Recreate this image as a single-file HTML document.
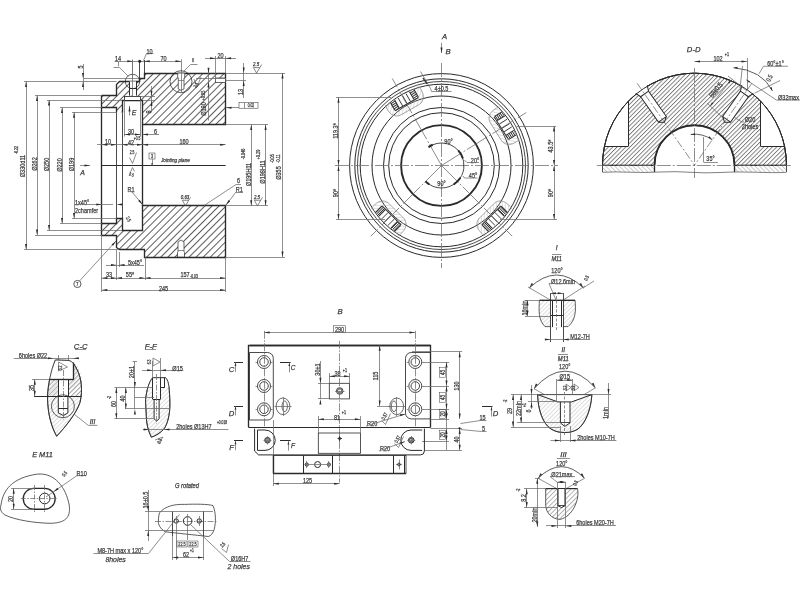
<!DOCTYPE html>
<html><head><meta charset="utf-8"><style>
html,body{margin:0;padding:0;background:#fff;width:800px;height:600px;overflow:hidden}
svg{display:block;will-change:transform}
text{font-family:"Liberation Sans",sans-serif}
</style></head><body>
<svg width="800" height="600" viewBox="0 0 800 600">
<defs>
<pattern id="hA" patternUnits="userSpaceOnUse" width="5" height="5" patternTransform="rotate(45)"><line x1="0.5" y1="0" x2="0.5" y2="5" stroke="#333" stroke-width="0.8"/></pattern>
<pattern id="hD" patternUnits="userSpaceOnUse" width="3.05" height="3.05" patternTransform="rotate(45)"><line x1="0.5" y1="0" x2="0.5" y2="3.05" stroke="#333" stroke-width="0.6"/></pattern>
<pattern id="hL" patternUnits="userSpaceOnUse" width="3" height="3" patternTransform="rotate(45)"><line x1="0.5" y1="0" x2="0.5" y2="3" stroke="#bbb" stroke-width="0.5"/></pattern>
<pattern id="thr" patternUnits="userSpaceOnUse" width="1.2" height="1.2"><line x1="0.3" y1="0" x2="0.3" y2="1.2" stroke="#333" stroke-width="0.6"/></pattern>
<pattern id="hL2" patternUnits="userSpaceOnUse" width="3.2" height="3.2" patternTransform="rotate(-45)"><line x1="0.5" y1="0" x2="0.5" y2="3.2" stroke="#aaa" stroke-width="0.6"/></pattern>
<pattern id="hS" patternUnits="userSpaceOnUse" width="3.3" height="3.3" patternTransform="rotate(45)"><line x1="0.5" y1="0" x2="0.5" y2="3.3" stroke="#666" stroke-width="0.5"/></pattern>
</defs>
<rect width="800" height="600" fill="#fff"/>
<g stroke="#2a2a2a" fill="none" stroke-linecap="butt">
<polygon points="101.8,95.6 116.6,95.6 116.6,84 119,81.4 139.4,81.4 139.4,78.4 144.7,78.4 144.7,73.1 225.6,73.1 225.6,124.5 142.5,124.5 142.5,100 122,100 122,112.3 116.5,112.3 116.5,107.5 101.8,107.5" stroke-width="0" fill="url(#hA)" stroke="#6a6a6a"/>
<polyline points="101.5,95.5 116.5,95.5 116.5,84.5 119.5,81.5 139.5,81.5 139.5,78.5 144.5,78.5 144.5,73.5 225.5,73.5 225.5,124.5 142.5,124.5 142.5,100.5 122.5,100.5 122.5,112.5" stroke-width="1.35" fill="none"/>
<polyline points="116.5,112.5 116.5,107.5 101.5,107.5 101.5,95.5" stroke-width="1.35" fill="none"/>
<polygon points="101.5,223.5 116.5,223.5 116.5,218.5 122.5,218.5 122.5,230.5 142.5,230.5 142.5,205.5 225.5,205.5 225.5,257.5 144.5,257.5 144.5,249.5 119.5,249.5 116.5,247.5 116.5,235.5 101.5,235.5" stroke-width="1.35" fill="url(#hA)"/>
<rect x="129" y="81.4" width="7" height="14.2" fill="#fff" stroke="none"/>
<line x1="129.5" y1="81.4" x2="129.5" y2="95.6" stroke-width="1.0"/>
<line x1="136.5" y1="81.4" x2="136.5" y2="95.6" stroke-width="1.0"/>
<line x1="129" y1="88.5" x2="136" y2="88.5" stroke-width="1.0"/>
<line x1="132.5" y1="60" x2="132.5" y2="97" stroke-width="0.75" stroke="#6a6a6a"/>
<circle cx="132.5" cy="81.5" r="7.2" stroke-width="0.75" fill="none"/>
<rect x="124" y="96.2" width="16.5" height="3.8" fill="#fff" stroke="none"/>
<line x1="124" y1="96.5" x2="140.5" y2="96.5" stroke-width="0.85"/>
<line x1="124.5" y1="96.2" x2="124.5" y2="100" stroke-width="0.85"/>
<line x1="140.5" y1="96.2" x2="140.5" y2="100" stroke-width="0.85"/>
<path d="M177.7 73.1 L184.7 73.1 L184.7 77.3 L184 78 L184 89 L181 90.3 L178.3 89 L178.3 78 L177.7 77.3 Z" fill="#fff" stroke-width="0.7"/>
<line x1="178.3" y1="80.5" x2="184" y2="80.5" stroke-width="0.75" stroke="#6a6a6a"/>
<line x1="181.5" y1="59.3" x2="181.5" y2="92" stroke-width="0.75" stroke="#6a6a6a"/>
<circle cx="181" cy="81.7" r="11" stroke-width="0.75" fill="none"/>
<path d="M177.5 257 L184.5 257 L184.5 252.5 L184 252 L184 242 L181 240 L178 242 L178 252 L177.5 252.5 Z" fill="#fff" stroke-width="0.7"/>
<line x1="178" y1="250.5" x2="184" y2="250.5" stroke-width="0.75" stroke="#6a6a6a"/>
<rect x="215.5" y="78" width="10.1" height="4.5" fill="#fff" stroke-width="0.7"/>
<line x1="101.5" y1="107.5" x2="101.5" y2="223.5" stroke-width="1.35"/>
<line x1="116.5" y1="112.3" x2="116.5" y2="218.5" stroke-width="0.85"/>
<line x1="122.5" y1="112.3" x2="122.5" y2="218.5" stroke-width="0.85"/>
<line x1="142.5" y1="124.5" x2="142.5" y2="205.8" stroke-width="1.35"/>
<line x1="101.8" y1="165.5" x2="225.6" y2="165.5" stroke-width="1.0"/>
<line x1="24" y1="81.5" x2="116.6" y2="81.5" stroke-width="0.75" stroke="#6a6a6a"/>
<line x1="24" y1="249.5" x2="119" y2="249.5" stroke-width="0.75" stroke="#6a6a6a"/>
<line x1="35" y1="95.5" x2="101.8" y2="95.5" stroke-width="0.75" stroke="#6a6a6a"/>
<line x1="35" y1="235.5" x2="101.8" y2="235.5" stroke-width="0.75" stroke="#6a6a6a"/>
<line x1="47" y1="100.5" x2="122" y2="100.5" stroke-width="0.75" stroke="#6a6a6a"/>
<line x1="47" y1="230.5" x2="122" y2="230.5" stroke-width="0.75" stroke="#6a6a6a"/>
<line x1="60" y1="107.5" x2="101.8" y2="107.5" stroke-width="0.75" stroke="#6a6a6a"/>
<line x1="60" y1="223.5" x2="101.8" y2="223.5" stroke-width="0.75" stroke="#6a6a6a"/>
<line x1="72" y1="112.5" x2="116.5" y2="112.5" stroke-width="0.75" stroke="#6a6a6a"/>
<line x1="72" y1="218.5" x2="116.5" y2="218.5" stroke-width="0.75" stroke="#6a6a6a"/>
<line x1="84" y1="78.5" x2="139.4" y2="78.5" stroke-width="0.75" stroke="#6a6a6a"/>
<line x1="26.5" y1="81.6" x2="26.5" y2="249.5" stroke-width="0.75" stroke="#6a6a6a"/>
<polygon points="26,249.5 25,244 27,244" fill="#2a2a2a" stroke="none"/>
<polygon points="26,81.6 27,87.1 25,87.1" fill="#2a2a2a" stroke="none"/>
<line x1="37.5" y1="95.6" x2="37.5" y2="235" stroke-width="0.75" stroke="#6a6a6a"/>
<polygon points="37,235 36,229.5 38,229.5" fill="#2a2a2a" stroke="none"/>
<polygon points="37,95.6 38,101.1 36,101.1" fill="#2a2a2a" stroke="none"/>
<line x1="49.5" y1="100" x2="49.5" y2="230.5" stroke-width="0.75" stroke="#6a6a6a"/>
<polygon points="49,230.5 48,225 50,225" fill="#2a2a2a" stroke="none"/>
<polygon points="49,100 50,105.5 48,105.5" fill="#2a2a2a" stroke="none"/>
<line x1="62.5" y1="107.5" x2="62.5" y2="223.5" stroke-width="0.75" stroke="#6a6a6a"/>
<polygon points="62,223.5 61,218 63,218" fill="#2a2a2a" stroke="none"/>
<polygon points="62,107.5 63,113 61,113" fill="#2a2a2a" stroke="none"/>
<line x1="74.5" y1="112.3" x2="74.5" y2="218.5" stroke-width="0.75" stroke="#6a6a6a"/>
<polygon points="74,218.5 73,213 75,213" fill="#2a2a2a" stroke="none"/>
<polygon points="74,112.3 75,117.8 73,117.8" fill="#2a2a2a" stroke="none"/>
<text x="23" y="166" dy="1.8" font-size="7.7" text-anchor="middle" transform="rotate(-90 23 166)" textLength="22.4" lengthAdjust="spacingAndGlyphs" fill="#3a3a3a" stroke="#3a3a3a" stroke-width="0.25">Ø330d11</text>
<text x="17.5" y="150" font-size="4.6" text-anchor="middle" transform="rotate(-90 17.5 150)" textLength="7.55" lengthAdjust="spacingAndGlyphs" fill="#3a3a3a" stroke="#3a3a3a" stroke-width="0.25">-0.22</text>
<text x="35" y="164" dy="1.8" font-size="7.7" text-anchor="middle" transform="rotate(-90 35 164)" textLength="13.56" lengthAdjust="spacingAndGlyphs" fill="#3a3a3a" stroke="#3a3a3a" stroke-width="0.25">Ø262</text>
<text x="47" y="164.5" dy="1.8" font-size="7.7" text-anchor="middle" transform="rotate(-90 47 164.5)" textLength="13.56" lengthAdjust="spacingAndGlyphs" fill="#3a3a3a" stroke="#3a3a3a" stroke-width="0.25">Ø250</text>
<text x="60" y="165" dy="1.8" font-size="7.7" text-anchor="middle" transform="rotate(-90 60 165)" textLength="13.56" lengthAdjust="spacingAndGlyphs" fill="#3a3a3a" stroke="#3a3a3a" stroke-width="0.25">Ø220</text>
<text x="72" y="164.5" dy="1.8" font-size="7.7" text-anchor="middle" transform="rotate(-90 72 164.5)" textLength="13.56" lengthAdjust="spacingAndGlyphs" fill="#3a3a3a" stroke="#3a3a3a" stroke-width="0.25">Ø199</text>
<line x1="80" y1="165.5" x2="90" y2="165.5" stroke-width="0.75" stroke="#6a6a6a"/>
<polygon points="90,165.6 84.5,166.6 84.5,164.6" fill="#2a2a2a" stroke="none"/>
<text x="82.5" y="173" dy="1.8" font-size="7.7" text-anchor="middle" font-style="italic" textLength="4.62" lengthAdjust="spacingAndGlyphs" fill="#3a3a3a" stroke="#3a3a3a" stroke-width="0.25">A</text>
<text x="75" y="203" dy="1.8" font-size="7.7" text-anchor="start" textLength="14.24" lengthAdjust="spacingAndGlyphs" fill="#3a3a3a" stroke="#3a3a3a" stroke-width="0.25">1x45°</text>
<text x="75" y="211" dy="1.8" font-size="7.7" text-anchor="start" textLength="23.11" lengthAdjust="spacingAndGlyphs" fill="#3a3a3a" stroke="#3a3a3a" stroke-width="0.25">2chamfer</text>
<line x1="74" y1="204.5" x2="113" y2="204.5" stroke-width="0.75" stroke="#6a6a6a"/>
<polygon points="101.8,204.4 96.3,205.4 96.3,203.4" fill="#2a2a2a" stroke="none"/>
<polygon points="116.5,204.4 122,203.4 122,205.4" fill="#2a2a2a" stroke="none"/>
<line x1="114.5" y1="61.5" x2="181" y2="61.5" stroke-width="0.75" stroke="#6a6a6a"/>
<polygon points="132.8,61.3 127.3,62.3 127.3,60.3" fill="#2a2a2a" stroke="none"/>
<polygon points="144.2,61.3 149.7,60.3 149.7,62.3" fill="#2a2a2a" stroke="none"/>
<polygon points="181,61.3 175.5,62.3 175.5,60.3" fill="#2a2a2a" stroke="none"/>
<circle cx="139.7" cy="61.3" r="1.5" fill="#222" stroke="none"/>
<line x1="132.5" y1="59.5" x2="132.5" y2="78" stroke-width="0.75" stroke="#6a6a6a"/>
<line x1="139.5" y1="61.3" x2="139.5" y2="78.4" stroke-width="0.85"/>
<line x1="144.5" y1="60" x2="144.5" y2="73.1" stroke-width="0.85"/>
<text x="118" y="58.8" dy="1.8" font-size="7.7" text-anchor="middle" textLength="6.17" lengthAdjust="spacingAndGlyphs" fill="#3a3a3a" stroke="#3a3a3a" stroke-width="0.25">14</text>
<text x="163.5" y="59" dy="1.8" font-size="7.7" text-anchor="middle" textLength="6.17" lengthAdjust="spacingAndGlyphs" fill="#3a3a3a" stroke="#3a3a3a" stroke-width="0.25">70</text>
<polyline points="143.5,60.5 146.5,53.5 153.5,53.5" stroke-width="0.75" fill="none" stroke="#6a6a6a"/>
<text x="149.5" y="52" dy="1.8" font-size="7.7" text-anchor="middle" textLength="6.17" lengthAdjust="spacingAndGlyphs" fill="#3a3a3a" stroke="#3a3a3a" stroke-width="0.25">10</text>
<line x1="205" y1="58.5" x2="236" y2="58.5" stroke-width="0.75" stroke="#6a6a6a"/>
<polygon points="215.5,58.3 210,59.3 210,57.3" fill="#2a2a2a" stroke="none"/>
<polygon points="225.6,58.3 231.1,57.3 231.1,59.3" fill="#2a2a2a" stroke="none"/>
<line x1="215.5" y1="56" x2="215.5" y2="78" stroke-width="0.75" stroke="#6a6a6a"/>
<line x1="225.5" y1="56" x2="225.5" y2="73.1" stroke-width="0.75" stroke="#6a6a6a"/>
<text x="220.5" y="56" dy="1.8" font-size="7.7" text-anchor="middle" textLength="6.17" lengthAdjust="spacingAndGlyphs" fill="#3a3a3a" stroke="#3a3a3a" stroke-width="0.25">20</text>
<line x1="83.5" y1="64" x2="83.5" y2="90" stroke-width="0.75" stroke="#6a6a6a"/>
<polygon points="83,78.4 82,72.9 84,72.9" fill="#2a2a2a" stroke="none"/>
<polygon points="83,81.4 84,86.9 82,86.9" fill="#2a2a2a" stroke="none"/>
<text x="81" y="67" dy="1.8" font-size="7.7" text-anchor="middle" transform="rotate(-90 81 67)" textLength="3.08" lengthAdjust="spacingAndGlyphs" fill="#3a3a3a" stroke="#3a3a3a" stroke-width="0.25">5</text>
<polyline points="113.5,67.5 119.5,67.5 128.5,76.5" stroke-width="0.75" fill="none" stroke="#6a6a6a"/>
<text x="118.5" y="65.5" font-size="5.2" text-anchor="middle" textLength="1.04" lengthAdjust="spacingAndGlyphs" fill="#3a3a3a" stroke="#3a3a3a" stroke-width="0.25">I</text>
<polyline points="183.5,71.5 190.5,64.5 197.5,64.5" stroke-width="0.75" fill="none" stroke="#6a6a6a"/>
<text x="192.7" y="62" font-size="5.2" text-anchor="middle" textLength="2.08" lengthAdjust="spacingAndGlyphs" fill="#3a3a3a" stroke="#3a3a3a" stroke-width="0.25">II</text>
<line x1="151.5" y1="86" x2="151.5" y2="112.5" stroke-width="0.75" stroke="#6a6a6a"/>
<polygon points="151.5,96.2 150.5,90.7 152.5,90.7" fill="#2a2a2a" stroke="none"/>
<polygon points="151.5,100.4 152.5,105.9 150.5,105.9" fill="#2a2a2a" stroke="none"/>
<text x="149" y="112" dy="1.8" font-size="7.7" text-anchor="middle" transform="rotate(-90 149 112)" textLength="3.08" lengthAdjust="spacingAndGlyphs" fill="#3a3a3a" stroke="#3a3a3a" stroke-width="0.25">8</text>
<line x1="140.5" y1="96.5" x2="155" y2="96.5" stroke-width="0.75" stroke="#6a6a6a"/>
<line x1="142.5" y1="100.5" x2="155" y2="100.5" stroke-width="0.75" stroke="#6a6a6a"/>
<line x1="129.5" y1="106" x2="129.5" y2="115.5" stroke-width="0.75" stroke="#6a6a6a"/>
<polygon points="129.5,106 130.5,111.5 128.5,111.5" fill="#2a2a2a" stroke="none"/>
<text x="134" y="113" dy="1.8" font-size="7.7" text-anchor="middle" font-style="italic" textLength="4.62" lengthAdjust="spacingAndGlyphs" fill="#3a3a3a" stroke="#3a3a3a" stroke-width="0.25">E</text>
<line x1="124.5" y1="136.5" x2="124.5" y2="100" stroke-width="0.75" stroke="#6a6a6a"/>
<line x1="140.5" y1="136.5" x2="140.5" y2="100" stroke-width="0.75" stroke="#6a6a6a"/>
<line x1="124.5" y1="134.5" x2="140.5" y2="134.5" stroke-width="0.75" stroke="#6a6a6a"/>
<polygon points="140.5,134.5 135,135.5 135,133.5" fill="#2a2a2a" stroke="none"/>
<polygon points="124.5,134.5 130,133.5 130,135.5" fill="#2a2a2a" stroke="none"/>
<line x1="142.5" y1="134.5" x2="159" y2="134.5" stroke-width="0.75" stroke="#6a6a6a"/>
<polygon points="142.5,134.5 148,133.5 148,135.5" fill="#2a2a2a" stroke="none"/>
<text x="131" y="131.8" dy="1.8" font-size="7.7" text-anchor="middle" textLength="6.17" lengthAdjust="spacingAndGlyphs" fill="#3a3a3a" stroke="#3a3a3a" stroke-width="0.25">30</text>
<text x="155.5" y="131.8" dy="1.8" font-size="7.7" text-anchor="middle" textLength="3.08" lengthAdjust="spacingAndGlyphs" fill="#3a3a3a" stroke="#3a3a3a" stroke-width="0.25">6</text>
<line x1="97" y1="144.5" x2="225.6" y2="144.5" stroke-width="0.75" stroke="#6a6a6a"/>
<polygon points="101.8,144.8 107.3,143.8 107.3,145.8" fill="#2a2a2a" stroke="none"/>
<polygon points="116.5,144.8 111,145.8 111,143.8" fill="#2a2a2a" stroke="none"/>
<polygon points="122,144.8 127.5,143.8 127.5,145.8" fill="#2a2a2a" stroke="none"/>
<polygon points="142.5,144.8 137,145.8 137,143.8" fill="#2a2a2a" stroke="none"/>
<polygon points="142.5,144.8 148,143.8 148,145.8" fill="#2a2a2a" stroke="none"/>
<polygon points="225.6,144.8 220.1,145.8 220.1,143.8" fill="#2a2a2a" stroke="none"/>
<text x="108" y="142.2" dy="1.8" font-size="7.7" text-anchor="middle" textLength="6.17" lengthAdjust="spacingAndGlyphs" fill="#3a3a3a" stroke="#3a3a3a" stroke-width="0.25">10</text>
<text x="131" y="143" dy="1.8" font-size="7.7" text-anchor="middle" textLength="6.17" lengthAdjust="spacingAndGlyphs" fill="#3a3a3a" stroke="#3a3a3a" stroke-width="0.25">42</text>
<text x="137" y="139.5" font-size="4.6" text-anchor="middle" textLength="6.54" lengthAdjust="spacingAndGlyphs" fill="#3a3a3a" stroke="#3a3a3a" stroke-width="0.25">+0.5</text>
<text x="184" y="142.2" dy="1.8" font-size="7.7" text-anchor="middle" textLength="9.25" lengthAdjust="spacingAndGlyphs" fill="#3a3a3a" stroke="#3a3a3a" stroke-width="0.25">160</text>
<text x="148" y="172" font-size="5.2" text-anchor="middle" fill="#3a3a3a" stroke="#3a3a3a" stroke-width="0.25"></text>
<rect x="149" y="153" width="6" height="6" fill="none" stroke-width="0.5"/>
<text x="152" y="158" font-size="5.2" text-anchor="middle" textLength="2.08" lengthAdjust="spacingAndGlyphs" fill="#3a3a3a" stroke="#3a3a3a" stroke-width="0.25">3</text>
<line x1="152.5" y1="159" x2="152.5" y2="165.5" stroke-width="0.75" stroke="#6a6a6a"/>
<polygon points="152,165.5 151.2,163.3 152.8,163.3" fill="#2a2a2a" stroke="none"/>
<text x="161" y="162" font-size="5.5" text-anchor="start" font-style="italic" textLength="28.85" lengthAdjust="spacingAndGlyphs" fill="#3a3a3a" stroke="#3a3a3a" stroke-width="0.25">Jointing plane</text>
<polyline points="129.5,157.5 132.5,163.5 136.5,152.5" stroke-width="0.75" fill="none" stroke="#6a6a6a"/>
<text x="132" y="154" font-size="4.6" text-anchor="middle" textLength="4.6" lengthAdjust="spacingAndGlyphs" fill="#3a3a3a" stroke="#3a3a3a" stroke-width="0.25">2.5</text>
<polyline points="129.5,174.5 132.5,167.5 134.5,171.5" stroke-width="0.75" fill="none" stroke="#6a6a6a"/>
<text x="131" y="176" font-size="4.6" text-anchor="middle" transform="rotate(20 131 176)" textLength="4.6" lengthAdjust="spacingAndGlyphs" fill="#3a3a3a" stroke="#3a3a3a" stroke-width="0.25">2.5</text>
<text x="131" y="190" dy="1.8" font-size="7.7" text-anchor="middle" textLength="7.09" lengthAdjust="spacingAndGlyphs" fill="#3a3a3a" stroke="#3a3a3a" stroke-width="0.25">R1</text>
<line x1="128.5" y1="191.5" x2="132.5" y2="191.5" stroke-width="0.75" stroke="#6a6a6a"/>
<line x1="132" y1="192" x2="142.5" y2="204.5" stroke-width="0.75" stroke="#6a6a6a"/>
<polygon points="142.5,204.5 138.2,200.93 139.73,199.64" fill="#2a2a2a" stroke="none"/>
<text x="239.4" y="190.5" dy="1.8" font-size="7.7" text-anchor="middle" textLength="7.09" lengthAdjust="spacingAndGlyphs" fill="#3a3a3a" stroke="#3a3a3a" stroke-width="0.25">R1</text>
<line x1="236" y1="192.5" x2="243" y2="192.5" stroke-width="0.75" stroke="#6a6a6a"/>
<line x1="236" y1="192" x2="226" y2="205" stroke-width="0.75" stroke="#6a6a6a"/>
<polygon points="226,205 228.6,200.05 230.17,201.28" fill="#2a2a2a" stroke="none"/>
<line x1="236" y1="184.5" x2="204" y2="205.6" stroke-width="0.75" stroke="#6a6a6a"/>
<line x1="236" y1="184.5" x2="241" y2="184.5" stroke-width="0.75" stroke="#6a6a6a"/>
<text x="238.5" y="181" dy="1.8" font-size="7.7" text-anchor="middle" textLength="3.08" lengthAdjust="spacingAndGlyphs" fill="#3a3a3a" stroke="#3a3a3a" stroke-width="0.25">6</text>
<path d="M182.3 200.3 L185.5 205.8 L188.7 200.3 Z M188.7 200.3 L190.5 197.3" stroke="#555" stroke-width="0.7" fill="none"/>
<text x="185" y="198.8" font-size="5.5" text-anchor="middle" font-style="italic" textLength="8.56" lengthAdjust="spacingAndGlyphs" fill="#3a3a3a" stroke="#3a3a3a" stroke-width="0.25">0.63</text>
<line x1="208.5" y1="68" x2="208.5" y2="120.5" stroke-width="0.75" stroke="#6a6a6a"/>
<polygon points="208.5,73.3 207.5,67.8 209.5,67.8" fill="#2a2a2a" stroke="none"/>
<polygon points="208.5,82 209.5,87.5 207.5,87.5" fill="#2a2a2a" stroke="none"/>
<line x1="196" y1="78.5" x2="225.6" y2="78.5" stroke-width="0.75" stroke="#6a6a6a"/>
<text x="204.5" y="109" dy="1.8" font-size="7.7" text-anchor="middle" transform="rotate(-90 204.5 109)" textLength="13.56" lengthAdjust="spacingAndGlyphs" fill="#3a3a3a" stroke="#3a3a3a" stroke-width="0.25">Ø180</text>
<text x="204.5" y="95.5" font-size="5.2" text-anchor="middle" transform="rotate(-90 204.5 95.5)" textLength="9.47" lengthAdjust="spacingAndGlyphs" fill="#3a3a3a" stroke="#3a3a3a" stroke-width="0.25">+0.05</text>
<polyline points="194,79 197,87 201,77" stroke-width="0.75" fill="none" stroke="#6a6a6a"/>
<text x="197.5" y="86" font-size="5.2" text-anchor="middle" transform="rotate(-60 197.5 86)" textLength="5.2" lengthAdjust="spacingAndGlyphs" fill="#3a3a3a" stroke="#3a3a3a" stroke-width="0.25">2.5</text>
<line x1="225.6" y1="73.5" x2="285" y2="73.5" stroke-width="0.75" stroke="#6a6a6a"/>
<line x1="225.6" y1="257.5" x2="285" y2="257.5" stroke-width="0.75" stroke="#6a6a6a"/>
<line x1="282.5" y1="73.1" x2="282.5" y2="257" stroke-width="0.75" stroke="#6a6a6a"/>
<polygon points="282.5,257 281.5,251.5 283.5,251.5" fill="#2a2a2a" stroke="none"/>
<polygon points="282.5,73.1 283.5,78.6 281.5,78.6" fill="#2a2a2a" stroke="none"/>
<text x="279.5" y="173" dy="1.8" font-size="7.7" text-anchor="middle" transform="rotate(-90 279.5 173)" textLength="13.56" lengthAdjust="spacingAndGlyphs" fill="#3a3a3a" stroke="#3a3a3a" stroke-width="0.25">Ø355</text>
<text x="273.5" y="158.5" font-size="5.2" text-anchor="middle" transform="rotate(-90 273.5 158.5)" textLength="8.53" lengthAdjust="spacingAndGlyphs" fill="#3a3a3a" stroke="#3a3a3a" stroke-width="0.25">-0.05</text>
<text x="279.5" y="158.5" font-size="5.2" text-anchor="middle" transform="rotate(-90 279.5 158.5)" textLength="8.25" lengthAdjust="spacingAndGlyphs" fill="#3a3a3a" stroke="#3a3a3a" stroke-width="0.25">-0.11</text>
<line x1="225.6" y1="124.5" x2="268" y2="124.5" stroke-width="0.75" stroke="#6a6a6a"/>
<line x1="225.6" y1="205.5" x2="268" y2="205.5" stroke-width="0.75" stroke="#6a6a6a"/>
<line x1="251.5" y1="124.5" x2="251.5" y2="205.8" stroke-width="0.75" stroke="#6a6a6a"/>
<polygon points="251.2,205.8 250.2,200.3 252.2,200.3" fill="#2a2a2a" stroke="none"/>
<polygon points="251.2,124.5 252.2,130 250.2,130" fill="#2a2a2a" stroke="none"/>
<line x1="265.5" y1="124.5" x2="265.5" y2="205.8" stroke-width="0.75" stroke="#6a6a6a"/>
<polygon points="265.6,205.8 264.6,200.3 266.6,200.3" fill="#2a2a2a" stroke="none"/>
<polygon points="265.6,124.5 266.6,130 264.6,130" fill="#2a2a2a" stroke="none"/>
<text x="249" y="174.5" dy="1.8" font-size="7.7" text-anchor="middle" transform="rotate(-90 249 174.5)" textLength="23.32" lengthAdjust="spacingAndGlyphs" fill="#3a3a3a" stroke="#3a3a3a" stroke-width="0.25">Ø195H11</text>
<text x="244.5" y="154" font-size="5.2" text-anchor="middle" transform="rotate(-90 244.5 154)" textLength="10.61" lengthAdjust="spacingAndGlyphs" fill="#3a3a3a" stroke="#3a3a3a" stroke-width="0.25">-0.046</text>
<text x="263.5" y="172" dy="1.8" font-size="7.7" text-anchor="middle" transform="rotate(-90 263.5 172)" textLength="23.32" lengthAdjust="spacingAndGlyphs" fill="#3a3a3a" stroke="#3a3a3a" stroke-width="0.25">Ø198H11</text>
<text x="259.5" y="154.5" font-size="5.2" text-anchor="middle" transform="rotate(-90 259.5 154.5)" textLength="9.47" lengthAdjust="spacingAndGlyphs" fill="#3a3a3a" stroke="#3a3a3a" stroke-width="0.25">+0.29</text>
<line x1="225.6" y1="80.5" x2="246" y2="80.5" stroke-width="0.75" stroke="#6a6a6a"/>
<line x1="243.5" y1="63" x2="243.5" y2="98" stroke-width="0.75" stroke="#6a6a6a"/>
<polygon points="243.7,73.1 242.7,67.6 244.7,67.6" fill="#2a2a2a" stroke="none"/>
<polygon points="243.7,80.5 244.7,86 242.7,86" fill="#2a2a2a" stroke="none"/>
<text x="241" y="92" dy="1.8" font-size="7.7" text-anchor="middle" transform="rotate(-90 241 92)" textLength="6.17" lengthAdjust="spacingAndGlyphs" fill="#3a3a3a" stroke="#3a3a3a" stroke-width="0.25">13</text>
<path d="M253.4 67.6 L256.6 73.1 L259.8 67.6 Z M259.8 67.6 L261.6 64.6" stroke="#555" stroke-width="0.7" fill="none"/>
<text x="256.1" y="66.1" font-size="5.5" text-anchor="middle" font-style="italic" textLength="6.12" lengthAdjust="spacingAndGlyphs" fill="#3a3a3a" stroke="#3a3a3a" stroke-width="0.25">2.5</text>
<path d="M254.3 200.3 L257.5 205.8 L260.7 200.3 Z M260.7 200.3 L262.5 197.3" stroke="#555" stroke-width="0.7" fill="none"/>
<text x="257" y="198.8" font-size="5.5" text-anchor="middle" font-style="italic" textLength="6.12" lengthAdjust="spacingAndGlyphs" fill="#3a3a3a" stroke="#3a3a3a" stroke-width="0.25">2.5</text>
<rect x="239" y="102.7" width="19" height="5.5" fill="none" stroke-width="0.5"/>
<line x1="244.5" y1="102.7" x2="244.5" y2="108.2" stroke-width="0.75" stroke="#6a6a6a"/>
<text x="251" y="107" font-size="4.6" text-anchor="middle" textLength="6.45" lengthAdjust="spacingAndGlyphs" fill="#3a3a3a" stroke="#3a3a3a" stroke-width="0.25">0.02</text>
<line x1="226" y1="107.5" x2="239" y2="107.5" stroke-width="0.75" stroke="#6a6a6a"/>
<polygon points="226,107.8 231.5,106.8 231.5,108.8" fill="#2a2a2a" stroke="none"/>
<line x1="101.5" y1="235" x2="101.5" y2="292" stroke-width="0.75" stroke="#6a6a6a"/>
<line x1="116.5" y1="249.5" x2="116.5" y2="280" stroke-width="0.75" stroke="#6a6a6a"/>
<line x1="145.5" y1="257" x2="145.5" y2="280" stroke-width="0.75" stroke="#6a6a6a"/>
<line x1="225.5" y1="257" x2="225.5" y2="292" stroke-width="0.75" stroke="#6a6a6a"/>
<line x1="119.5" y1="252" x2="119.5" y2="267" stroke-width="0.75" stroke="#6a6a6a"/>
<line x1="101.8" y1="278.5" x2="116.5" y2="278.5" stroke-width="0.75" stroke="#6a6a6a"/>
<polygon points="116.5,278 111,279 111,277" fill="#2a2a2a" stroke="none"/>
<polygon points="101.8,278 107.3,277 107.3,279" fill="#2a2a2a" stroke="none"/>
<line x1="116.5" y1="278.5" x2="145" y2="278.5" stroke-width="0.75" stroke="#6a6a6a"/>
<polygon points="145,278 139.5,279 139.5,277" fill="#2a2a2a" stroke="none"/>
<polygon points="116.5,278 122,277 122,279" fill="#2a2a2a" stroke="none"/>
<line x1="145" y1="278.5" x2="225.6" y2="278.5" stroke-width="0.75" stroke="#6a6a6a"/>
<polygon points="225.6,278 220.1,279 220.1,277" fill="#2a2a2a" stroke="none"/>
<polygon points="145,278 150.5,277 150.5,279" fill="#2a2a2a" stroke="none"/>
<line x1="101.8" y1="290.5" x2="225.6" y2="290.5" stroke-width="0.75" stroke="#6a6a6a"/>
<polygon points="225.6,290 220.1,291 220.1,289" fill="#2a2a2a" stroke="none"/>
<polygon points="101.8,290 107.3,289 107.3,291" fill="#2a2a2a" stroke="none"/>
<text x="109" y="275.5" dy="1.8" font-size="7.7" text-anchor="middle" textLength="6.17" lengthAdjust="spacingAndGlyphs" fill="#3a3a3a" stroke="#3a3a3a" stroke-width="0.25">33</text>
<text x="130" y="275.5" dy="1.8" font-size="7.7" text-anchor="middle" textLength="8.32" lengthAdjust="spacingAndGlyphs" fill="#3a3a3a" stroke="#3a3a3a" stroke-width="0.25">55*</text>
<text x="185" y="275.5" dy="1.8" font-size="7.7" text-anchor="middle" textLength="9.25" lengthAdjust="spacingAndGlyphs" fill="#3a3a3a" stroke="#3a3a3a" stroke-width="0.25">157</text>
<text x="194" y="277.5" font-size="4.6" text-anchor="middle" textLength="7.55" lengthAdjust="spacingAndGlyphs" fill="#3a3a3a" stroke="#3a3a3a" stroke-width="0.25">-0.03</text>
<text x="163.5" y="289.5" dy="1.8" font-size="7.7" text-anchor="middle" textLength="9.25" lengthAdjust="spacingAndGlyphs" fill="#3a3a3a" stroke="#3a3a3a" stroke-width="0.25">245</text>
<line x1="106" y1="265.5" x2="144" y2="265.5" stroke-width="0.75" stroke="#6a6a6a"/>
<polygon points="116.5,265 111,266 111,264" fill="#2a2a2a" stroke="none"/>
<polygon points="119,265 124.5,264 124.5,266" fill="#2a2a2a" stroke="none"/>
<text x="135" y="263" dy="1.8" font-size="7.7" text-anchor="middle" textLength="14.24" lengthAdjust="spacingAndGlyphs" fill="#3a3a3a" stroke="#3a3a3a" stroke-width="0.25">5x45°</text>
<line x1="116" y1="241" x2="79.5" y2="281" stroke-width="0.75" stroke="#6a6a6a"/>
<polygon points="116,241 113.06,245.76 111.58,244.42" fill="#2a2a2a" stroke="none"/>
<circle cx="77.4" cy="284" r="3.6" stroke-width="0.75" fill="none"/>
<text x="77.4" y="285.8" font-size="5.2" text-anchor="middle" textLength="2.08" lengthAdjust="spacingAndGlyphs" fill="#3a3a3a" stroke="#3a3a3a" stroke-width="0.25">7</text>
<text x="127" y="220" font-size="5.2" text-anchor="middle" transform="rotate(60 127 220)" textLength="5.2" lengthAdjust="spacingAndGlyphs" fill="#3a3a3a" stroke="#3a3a3a" stroke-width="0.25">2.5</text>
<circle cx="441.5" cy="165.5" r="91.9" stroke-width="1.0" fill="none"/>
<circle cx="441.5" cy="165.5" r="86.7" stroke-width="1.0" fill="none"/>
<circle cx="441.5" cy="165.5" r="84" stroke-width="0.85" fill="none"/>
<circle cx="441.5" cy="165.5" r="81.3" stroke-width="1.0" fill="none"/>
<circle cx="441.5" cy="165.5" r="69.5" stroke-width="1.0" fill="none"/>
<circle cx="441.5" cy="165.5" r="58" stroke-width="1.0" fill="none"/>
<circle cx="441.5" cy="165.5" r="52.8" stroke-width="1.0" fill="none"/>
<circle cx="441.5" cy="165.5" r="40.4" stroke-width="1.9" fill="none"/>
<g transform="translate(405.06 101.09) rotate(-29.5)">
<path d="M-19 -6 C-21 2 -18 10 -10 10 L10 10 C18 10 21 2 19 -6" stroke="#8a8a8a" stroke-width="0.7" fill="url(#hL)"/>
<rect x="-13.5" y="-6" width="27" height="9" fill="#fff" stroke="none"/>
<rect x="-13.5" y="-6" width="5" height="9" fill="url(#thr)" stroke="none"/>
<line x1="-13.5" y1="-6" x2="-13.5" y2="3" stroke-width="1.0"/>
<line x1="-8.5" y1="-6" x2="-8.5" y2="3" stroke-width="1.0"/>
<rect x="8.5" y="-6" width="5" height="9" fill="url(#thr)" stroke="none"/>
<line x1="8.5" y1="-6" x2="8.5" y2="3" stroke-width="1.0"/>
<line x1="13.5" y1="-6" x2="13.5" y2="3" stroke-width="1.0"/>
<line x1="-4.5" y1="-6" x2="-4.5" y2="3" stroke-width="0.85"/>
<line x1="0.5" y1="-6" x2="0.5" y2="3" stroke-width="0.85"/>
<line x1="4.5" y1="-6" x2="4.5" y2="3" stroke-width="0.85"/>
<line x1="-13.5" y1="3.5" x2="13.5" y2="3.5" stroke-width="1.0"/>
</g>
<g transform="translate(504.26 126.29) rotate(58)">
<path d="M-19 -6 C-21 2 -18 10 -10 10 L10 10 C18 10 21 2 19 -6" stroke="#8a8a8a" stroke-width="0.7" fill="url(#hL)"/>
<rect x="-13.5" y="-6" width="27" height="9" fill="#fff" stroke="none"/>
<rect x="-13.5" y="-6" width="5" height="9" fill="url(#thr)" stroke="none"/>
<line x1="-13.5" y1="-6" x2="-13.5" y2="3" stroke-width="1.0"/>
<line x1="-8.5" y1="-6" x2="-8.5" y2="3" stroke-width="1.0"/>
<rect x="8.5" y="-6" width="5" height="9" fill="url(#thr)" stroke="none"/>
<line x1="8.5" y1="-6" x2="8.5" y2="3" stroke-width="1.0"/>
<line x1="13.5" y1="-6" x2="13.5" y2="3" stroke-width="1.0"/>
<line x1="-4.5" y1="-6" x2="-4.5" y2="3" stroke-width="0.85"/>
<line x1="0.5" y1="-6" x2="0.5" y2="3" stroke-width="0.85"/>
<line x1="4.5" y1="-6" x2="4.5" y2="3" stroke-width="0.85"/>
<line x1="-13.5" y1="3.5" x2="13.5" y2="3.5" stroke-width="1.0"/>
</g>
<g transform="translate(389.17 217.83) rotate(225)">
<path d="M-19 -6 C-21 2 -18 10 -10 10 L10 10 C18 10 21 2 19 -6" stroke="#8a8a8a" stroke-width="0.7" fill="url(#hL)"/>
<rect x="-13.5" y="-6" width="27" height="9" fill="#fff" stroke="none"/>
<rect x="-13.5" y="-6" width="5" height="9" fill="url(#thr)" stroke="none"/>
<line x1="-13.5" y1="-6" x2="-13.5" y2="3" stroke-width="1.0"/>
<line x1="-8.5" y1="-6" x2="-8.5" y2="3" stroke-width="1.0"/>
<rect x="8.5" y="-6" width="5" height="9" fill="url(#thr)" stroke="none"/>
<line x1="8.5" y1="-6" x2="8.5" y2="3" stroke-width="1.0"/>
<line x1="13.5" y1="-6" x2="13.5" y2="3" stroke-width="1.0"/>
<line x1="-4.5" y1="-6" x2="-4.5" y2="3" stroke-width="0.85"/>
<line x1="0.5" y1="-6" x2="0.5" y2="3" stroke-width="0.85"/>
<line x1="4.5" y1="-6" x2="4.5" y2="3" stroke-width="0.85"/>
<line x1="-13.5" y1="3.5" x2="13.5" y2="3.5" stroke-width="1.0"/>
</g>
<g transform="translate(493.83 217.83) rotate(135)">
<path d="M-19 -6 C-21 2 -18 10 -10 10 L10 10 C18 10 21 2 19 -6" stroke="#8a8a8a" stroke-width="0.7" fill="url(#hL)"/>
<rect x="-13.5" y="-6" width="27" height="9" fill="#fff" stroke="none"/>
<rect x="-13.5" y="-6" width="5" height="9" fill="url(#thr)" stroke="none"/>
<line x1="-13.5" y1="-6" x2="-13.5" y2="3" stroke-width="1.0"/>
<line x1="-8.5" y1="-6" x2="-8.5" y2="3" stroke-width="1.0"/>
<rect x="8.5" y="-6" width="5" height="9" fill="url(#thr)" stroke="none"/>
<line x1="8.5" y1="-6" x2="8.5" y2="3" stroke-width="1.0"/>
<line x1="13.5" y1="-6" x2="13.5" y2="3" stroke-width="1.0"/>
<line x1="-4.5" y1="-6" x2="-4.5" y2="3" stroke-width="0.85"/>
<line x1="0.5" y1="-6" x2="0.5" y2="3" stroke-width="0.85"/>
<line x1="4.5" y1="-6" x2="4.5" y2="3" stroke-width="0.85"/>
<line x1="-13.5" y1="3.5" x2="13.5" y2="3.5" stroke-width="1.0"/>
</g>
<line x1="335" y1="165.5" x2="558" y2="165.5" stroke-width="0.75" stroke-dasharray="14 2 2 2" stroke="#6a6a6a"/>
<line x1="441.5" y1="63" x2="441.5" y2="268" stroke-width="0.75" stroke-dasharray="14 2 2 2" stroke="#6a6a6a"/>
<line x1="441.5" y1="165.5" x2="392.26" y2="78.46" stroke-width="0.75" stroke-dasharray="24 2 2 2" stroke="#666"/>
<line x1="441.5" y1="165.5" x2="526.3" y2="112.51" stroke-width="0.75" stroke-dasharray="24 2 2 2" stroke="#666"/>
<line x1="441.5" y1="165.5" x2="370.79" y2="236.21" stroke-width="0.75" stroke-dasharray="24 2 2 2" stroke="#666"/>
<line x1="441.5" y1="165.5" x2="512.21" y2="236.21" stroke-width="0.75" stroke-dasharray="24 2 2 2" stroke="#666"/>
<path d="M428.59 147.07 A22.5 22.5 0 0 1 460.99 154.25" stroke-width="0.85" fill="none" />
<path d="M460.99 154.25 A22.5 22.5 0 0 1 457.41 181.41" stroke-width="0.85" fill="none" />
<path d="M457.41 181.41 A22.5 22.5 0 0 1 425.59 181.41" stroke-width="0.85" fill="none" />
<path d="M428.59 147.07 A22.5 22.5 0 0 1 432.71 144.79" stroke-width="2" fill="none"/>
<path d="M458.22 150.44 A22.5 22.5 0 0 1 462.9 158.55" stroke-width="2" fill="none"/>
<path d="M460.37 177.75 A22.5 22.5 0 0 1 453.75 184.37" stroke-width="2" fill="none"/>
<path d="M429.25 184.37 A22.5 22.5 0 0 1 425.59 181.41" stroke-width="2" fill="none"/>
<text x="448.5" y="142" dy="1.8" font-size="7.7" text-anchor="middle" textLength="8.38" lengthAdjust="spacingAndGlyphs" fill="#3a3a3a" stroke="#3a3a3a" stroke-width="0.25">90°</text>
<text x="441.5" y="184.5" dy="1.8" font-size="7.7" text-anchor="middle" textLength="8.38" lengthAdjust="spacingAndGlyphs" fill="#3a3a3a" stroke="#3a3a3a" stroke-width="0.25">90°</text>
<text x="475" y="161" dy="1.8" font-size="7.7" text-anchor="middle" textLength="8.38" lengthAdjust="spacingAndGlyphs" fill="#3a3a3a" stroke="#3a3a3a" stroke-width="0.25">20°</text>
<polyline points="464.5,160 467,162.5 479,162.5" stroke-width="0.75" fill="none" stroke="#6a6a6a"/>
<text x="473" y="176" dy="1.8" font-size="7.7" text-anchor="middle" textLength="8.38" lengthAdjust="spacingAndGlyphs" fill="#3a3a3a" stroke="#3a3a3a" stroke-width="0.25">45°</text>
<polyline points="463,176 464.5,178 477.5,178" stroke-width="0.75" fill="none" stroke="#6a6a6a"/>
<line x1="441.5" y1="42.8" x2="441.5" y2="53" stroke-width="0.75" stroke="#6a6a6a"/>
<polygon points="441.5,53 440.5,47.5 442.5,47.5" fill="#2a2a2a" stroke="none"/>
<text x="444.5" y="37" dy="1.8" font-size="7.7" text-anchor="middle" font-style="italic" textLength="5.14" lengthAdjust="spacingAndGlyphs" fill="#3a3a3a" stroke="#3a3a3a" stroke-width="0.25">A</text>
<text x="448" y="52" dy="1.8" font-size="7.7" text-anchor="middle" font-style="italic" textLength="5.14" lengthAdjust="spacingAndGlyphs" fill="#3a3a3a" stroke="#3a3a3a" stroke-width="0.25">B</text>
<line x1="336" y1="97.5" x2="391" y2="97.5" stroke-width="0.75" stroke="#6a6a6a"/>
<line x1="336" y1="219.5" x2="385" y2="219.5" stroke-width="0.75" stroke="#6a6a6a"/>
<line x1="338.5" y1="97.3" x2="338.5" y2="165.5" stroke-width="0.75" stroke="#6a6a6a"/>
<polygon points="338.5,165.5 337.5,160 339.5,160" fill="#2a2a2a" stroke="none"/>
<polygon points="338.5,97.3 339.5,102.8 337.5,102.8" fill="#2a2a2a" stroke="none"/>
<line x1="338.5" y1="165.5" x2="338.5" y2="219.5" stroke-width="0.75" stroke="#6a6a6a"/>
<polygon points="338.5,219.5 337.5,214 339.5,214" fill="#2a2a2a" stroke="none"/>
<polygon points="338.5,165.5 339.5,171 337.5,171" fill="#2a2a2a" stroke="none"/>
<text x="336" y="131" dy="1.8" font-size="7.7" text-anchor="middle" transform="rotate(-90 336 131)" textLength="15.62" lengthAdjust="spacingAndGlyphs" fill="#3a3a3a" stroke="#3a3a3a" stroke-width="0.25">119.3*</text>
<text x="336" y="193" dy="1.8" font-size="7.7" text-anchor="middle" transform="rotate(-90 336 193)" textLength="8.32" lengthAdjust="spacingAndGlyphs" fill="#3a3a3a" stroke="#3a3a3a" stroke-width="0.25">90*</text>
<line x1="517" y1="126.5" x2="556" y2="126.5" stroke-width="0.75" stroke="#6a6a6a"/>
<line x1="500" y1="219.5" x2="557" y2="219.5" stroke-width="0.75" stroke="#6a6a6a"/>
<line x1="554.5" y1="126" x2="554.5" y2="165.5" stroke-width="0.75" stroke="#6a6a6a"/>
<polygon points="554,165.5 553,160 555,160" fill="#2a2a2a" stroke="none"/>
<polygon points="554,126 555,131.5 553,131.5" fill="#2a2a2a" stroke="none"/>
<line x1="554.5" y1="165.5" x2="554.5" y2="219.5" stroke-width="0.75" stroke="#6a6a6a"/>
<polygon points="554,219.5 553,214 555,214" fill="#2a2a2a" stroke="none"/>
<polygon points="554,165.5 555,171 553,171" fill="#2a2a2a" stroke="none"/>
<text x="551.5" y="146" dy="1.8" font-size="7.7" text-anchor="middle" transform="rotate(-90 551.5 146)" textLength="12.95" lengthAdjust="spacingAndGlyphs" fill="#3a3a3a" stroke="#3a3a3a" stroke-width="0.25">43.5*</text>
<text x="551.5" y="193" dy="1.8" font-size="7.7" text-anchor="middle" transform="rotate(-90 551.5 193)" textLength="8.32" lengthAdjust="spacingAndGlyphs" fill="#3a3a3a" stroke="#3a3a3a" stroke-width="0.25">90*</text>
<polyline points="420.5,71.5 430.5,88.5 431.5,91.5 451.5,91.5" stroke-width="0.75" fill="none" stroke="#6a6a6a"/>
<line x1="423" y1="78" x2="427" y2="84" stroke-width="1.35"/>
<text x="441.5" y="89.5" dy="1.8" font-size="7.7" text-anchor="middle" textLength="13.83" lengthAdjust="spacingAndGlyphs" fill="#3a3a3a" stroke="#3a3a3a" stroke-width="0.25">4±0.5</text>
<path d="M602.5 165.2 A92 92 0 0 1 786.5 165.2 L734.5 165.2 A40 40 0 0 0 654.5 165.2 Z" stroke-width="1.0" fill="url(#hD)" />
<path d="M627.64 102 L628.5 102 L628.5 146 L604.53 146 A92 92 0 0 1 627.64 102 Z" stroke-width="0" fill="#fff" stroke="none"/>
<polyline points="627.5,102.5 628.5,102.5" stroke-width="0" fill="none" stroke="#6a6a6a"/>
<line x1="628.5" y1="102" x2="628.5" y2="146" stroke-width="1.0"/>
<line x1="604.53" y1="146.5" x2="628.5" y2="146.5" stroke-width="1.0"/>
<path d="M761.36 102 L760.5 102 L760.5 146 L784.47 146 A92 92 0 0 0 761.36 102 Z" stroke-width="0" fill="#fff" stroke="none"/>
<line x1="760.5" y1="102" x2="760.5" y2="146" stroke-width="1.0"/>
<line x1="760.5" y1="146.5" x2="784.47" y2="146.5" stroke-width="1.0"/>
<path d="M602.5 165.2 A92 92 0 0 1 786.5 165.2" stroke-width="1.0" fill="none" />
<path d="M654.5 165.2 A40 40 0 0 1 734.5 165.2" stroke-width="1.9" fill="none" />
<g transform="translate(694.5 165.2) rotate(-35)">
<polygon points="-7.5,-95 7.5,-95 4.85,-87 4.85,-56 0,-53 -4.85,-56 -4.85,-87" fill="#fff" stroke="none"/>
<path d="M-4.85 -87 L-4.85 -56 L4.85 -56 L4.85 -87 Z M-7 -92.5 L-4.85 -87 M7 -92.5 L4.85 -87 M-4.85 -56 L0 -52.5 L4.85 -56" stroke-width="1" fill="none"/>
<line x1="0" y1="-100" x2="0" y2="0" stroke-width="0.6" stroke="#555" stroke-dasharray="8 2 2 2"/>
</g>
<g transform="translate(694.5 165.2) rotate(35)">
<polygon points="-7.5,-95 7.5,-95 4.85,-87 4.85,-56 0,-53 -4.85,-56 -4.85,-87" fill="#fff" stroke="none"/>
<path d="M-4.85 -87 L-4.85 -56 L4.85 -56 L4.85 -87 Z M-7 -92.5 L-4.85 -87 M7 -92.5 L4.85 -87 M-4.85 -56 L0 -52.5 L4.85 -56" stroke-width="1" fill="none"/>
<line x1="0" y1="-100" x2="0" y2="0" stroke-width="0.6" stroke="#555" stroke-dasharray="8 2 2 2"/>
</g>
<path d="M602.5 165.2 A92 92 0 0 1 786.5 165.2" stroke-width="1.0" fill="none" />
<rect x="602.5" y="165.2" width="52" height="6.8" fill="url(#hL2)" stroke="none"/>
<rect x="734.5" y="165.2" width="52" height="6.8" fill="url(#hL2)" stroke="none"/>
<line x1="602.5" y1="165.5" x2="654.5" y2="165.5" stroke-width="1.0"/>
<line x1="734.5" y1="165.5" x2="786.5" y2="165.5" stroke-width="1.0"/>
<line x1="602.5" y1="165.2" x2="602.5" y2="172" stroke-width="0.85"/>
<line x1="786.5" y1="165.2" x2="786.5" y2="172" stroke-width="0.85"/>
<line x1="654.5" y1="165.2" x2="654.5" y2="172" stroke-width="1.35"/>
<line x1="734.5" y1="165.2" x2="734.5" y2="172" stroke-width="1.35"/>
<path d="M602.5 172.3 C620 171 640 173.5 660 172 C680 170.5 700 174 720 172.5 C745 171 770 173.5 786.5 172.3" stroke="#555" stroke-width="0.75" fill="none"/>
<line x1="596.8" y1="165.5" x2="790.8" y2="165.5" stroke-width="0.75" stroke-dasharray="14 2 2 2" stroke="#6a6a6a"/>
<line x1="694.5" y1="68" x2="694.5" y2="178" stroke-width="0.75" stroke-dasharray="14 2 2 2" stroke="#6a6a6a"/>
<text x="693.7" y="50" dy="1.8" font-size="7.7" text-anchor="middle" font-style="italic" textLength="13.69" lengthAdjust="spacingAndGlyphs" fill="#3a3a3a" stroke="#3a3a3a" stroke-width="0.25">D-D</text>
<line x1="694.5" y1="61.5" x2="747" y2="61.5" stroke-width="0.75" stroke="#6a6a6a"/>
<polygon points="694.5,61.5 700,60.5 700,62.5" fill="#2a2a2a" stroke="none"/>
<polygon points="747,61.5 741.5,62.5 741.5,60.5" fill="#2a2a2a" stroke="none"/>
<line x1="747.5" y1="58" x2="747.5" y2="90" stroke-width="0.75" stroke="#6a6a6a"/>
<text x="718" y="59" dy="1.8" font-size="7.7" text-anchor="middle" textLength="9.25" lengthAdjust="spacingAndGlyphs" fill="#3a3a3a" stroke="#3a3a3a" stroke-width="0.25">102</text>
<text x="727" y="55.5" font-size="5.2" text-anchor="middle" textLength="4.27" lengthAdjust="spacingAndGlyphs" fill="#3a3a3a" stroke="#3a3a3a" stroke-width="0.25">+1</text>
<path d="M690.72 134.43 A31 31 0 0 1 712.28 139.81" stroke-width="0.75" fill="none" />
<polygon points="690.5,134.3 695,133.4 695,135.2" fill="#2a2a2a" stroke="none"/>
<polygon points="712.3,139.8 708.27,137.6 709.43,136.22" fill="#2a2a2a" stroke="none"/>
<line x1="703.5" y1="137" x2="703.5" y2="162" stroke-width="0.75" stroke="#6a6a6a"/>
<line x1="703.5" y1="162.5" x2="718" y2="162.5" stroke-width="0.75" stroke="#6a6a6a"/>
<text x="710.5" y="159.5" dy="1.8" font-size="7.7" text-anchor="middle" textLength="8.38" lengthAdjust="spacingAndGlyphs" fill="#3a3a3a" stroke="#3a3a3a" stroke-width="0.25">35°</text>
<path d="M733.5 67.75 Q762 70 772.5 91" stroke-width="0.75" fill="none" />
<polygon points="733.5,67.75 737.5,66.85 737.5,68.65" fill="#2a2a2a" stroke="none"/>
<polygon points="772.5,91 769.99,87.76 771.63,86.99" fill="#2a2a2a" stroke="none"/>
<line x1="742.5" y1="66" x2="740" y2="88" stroke-width="0.75" stroke="#6a6a6a"/>
<polyline points="759,73.75 763.5,66.25 788,66.25" stroke-width="0.75" fill="none" stroke="#6a6a6a"/>
<text x="775.5" y="64.5" dy="1.8" font-size="7.7" text-anchor="middle" textLength="16.73" lengthAdjust="spacingAndGlyphs" fill="#3a3a3a" stroke="#3a3a3a" stroke-width="0.25">60°±1°</text>
<polyline points="754.5,93.25 780,80.5" stroke-width="0.75" fill="none" stroke="#6a6a6a"/>
<text x="771.5" y="79" font-size="6.5" text-anchor="middle" transform="rotate(-65 771.5 79)" textLength="6.51" lengthAdjust="spacingAndGlyphs" fill="#3a3a3a" stroke="#3a3a3a" stroke-width="0.25">0.5</text>
<polyline points="746.25,79.75 776.25,100 800,100" stroke-width="0.75" fill="none" stroke="#6a6a6a"/>
<polygon points="746.25,79.75 750.07,81.24 749.06,82.73" fill="#2a2a2a" stroke="none"/>
<text x="788.5" y="98.5" dy="1.8" font-size="7.7" text-anchor="middle" textLength="20.95" lengthAdjust="spacingAndGlyphs" fill="#3a3a3a" stroke="#3a3a3a" stroke-width="0.25">Ø32max</text>
<line x1="710.25" y1="106" x2="731.25" y2="79.75" stroke-width="0.75" stroke="#6a6a6a"/>
<polygon points="710.25,106 712,102.29 713.42,103.4" fill="#2a2a2a" stroke="none"/>
<polygon points="731.25,79.75 729.5,83.46 728.08,82.35" fill="#2a2a2a" stroke="none"/>
<line x1="707" y1="103" x2="723" y2="118" stroke-width="0.75" stroke="#6a6a6a"/>
<line x1="728" y1="76" x2="747" y2="91" stroke-width="0.75" stroke="#6a6a6a"/>
<text x="716.5" y="90.5" dy="1.8" font-size="7.7" text-anchor="middle" transform="rotate(-52 716.5 90.5)" textLength="16.92" lengthAdjust="spacingAndGlyphs" fill="#3a3a3a" stroke="#3a3a3a" stroke-width="0.25">68±0.5</text>
<polyline points="734.25,117.25 742,122 744,122" stroke-width="0.75" fill="none" stroke="#6a6a6a"/>
<text x="750" y="120.5" dy="1.8" font-size="7.7" text-anchor="middle" textLength="10.48" lengthAdjust="spacingAndGlyphs" fill="#3a3a3a" stroke="#3a3a3a" stroke-width="0.25">Ø20</text>
<text x="750" y="127" dy="1.8" font-size="7.7" text-anchor="middle" textLength="16.34" lengthAdjust="spacingAndGlyphs" fill="#3a3a3a" stroke="#3a3a3a" stroke-width="0.25">2holes</text>
<text x="556.6" y="250" font-size="6.5" text-anchor="middle" font-style="italic" textLength="1.81" lengthAdjust="spacingAndGlyphs" fill="#3a3a3a" stroke="#3a3a3a" stroke-width="0.25">I</text>
<line x1="552" y1="254.5" x2="561.4" y2="254.5" stroke-width="0.75" stroke="#6a6a6a"/>
<text x="556.6" y="260.5" font-size="6.5" text-anchor="middle" font-style="italic" textLength="10.34" lengthAdjust="spacingAndGlyphs" fill="#3a3a3a" stroke="#3a3a3a" stroke-width="0.25">M11</text>
<text x="557" y="271" dy="1.8" font-size="7.7" text-anchor="middle" textLength="11.47" lengthAdjust="spacingAndGlyphs" fill="#3a3a3a" stroke="#3a3a3a" stroke-width="0.25">120°</text>
<path d="M529.3 288 Q556.8 262 583.4 288" stroke-width="0.75" fill="none" />
<polygon points="529.3,288 531.64,282.92 533.27,284.07" fill="#2a2a2a" stroke="none"/>
<polygon points="583.4,288 579.43,284.07 581.06,282.92" fill="#2a2a2a" stroke="none"/>
<line x1="550.4" y1="300" x2="528" y2="287" stroke-width="0.75" stroke="#6a6a6a"/>
<line x1="563.2" y1="300" x2="585" y2="286" stroke-width="0.75" stroke="#6a6a6a"/>
<line x1="583" y1="288" x2="594" y2="281" stroke-width="0.75" stroke="#6a6a6a"/>
<text x="588" y="279" font-size="5.2" text-anchor="middle" transform="rotate(-60 588 279)" textLength="5.2" lengthAdjust="spacingAndGlyphs" fill="#3a3a3a" stroke="#3a3a3a" stroke-width="0.25">0.5</text>
<text x="563" y="282" dy="1.8" font-size="7.7" text-anchor="middle" textLength="24.03" lengthAdjust="spacingAndGlyphs" fill="#3a3a3a" stroke="#3a3a3a" stroke-width="0.25">Ø12.6min</text>
<line x1="549" y1="283.5" x2="574" y2="283.5" stroke-width="0.75" stroke="#6a6a6a"/>
<line x1="549" y1="283.5" x2="556" y2="300" stroke-width="0.75" stroke="#6a6a6a"/>
<path d="M539.4 300 L575 300 C576 310 576 320 568 326.6 L545 326.6 C538 320 539 310 539.4 300 Z" stroke-width="0.75" fill="url(#hL)" />
<rect x="550.4" y="300" width="12.8" height="27" fill="#fff" stroke="none"/>
<line x1="539.4" y1="300.5" x2="575" y2="300.5" stroke-width="1.0"/>
<line x1="550.5" y1="293" x2="550.5" y2="342" stroke-width="0.85"/>
<line x1="563.5" y1="293" x2="563.5" y2="342" stroke-width="0.85"/>
<line x1="552.5" y1="300" x2="552.5" y2="327" stroke-width="1.0"/>
<line x1="561.5" y1="300" x2="561.5" y2="327" stroke-width="1.0"/>
<line x1="550.4" y1="315.5" x2="563.2" y2="315.5" stroke-width="1.0"/>
<line x1="556.5" y1="296" x2="556.5" y2="330" stroke-width="0.75" stroke-dasharray="3 1.5" stroke="#6a6a6a"/>
<line x1="550.4" y1="293.5" x2="563.2" y2="293.5" stroke-width="0.75" stroke="#6a6a6a"/>
<polygon points="563.2,293.3 557.7,294.3 557.7,292.3" fill="#2a2a2a" stroke="none"/>
<polygon points="550.4,293.3 555.9,292.3 555.9,294.3" fill="#2a2a2a" stroke="none"/>
<line x1="525" y1="300.5" x2="540" y2="300.5" stroke-width="0.75" stroke="#6a6a6a"/>
<line x1="525" y1="316.5" x2="550" y2="316.5" stroke-width="0.75" stroke="#6a6a6a"/>
<line x1="527.5" y1="300" x2="527.5" y2="316" stroke-width="0.75" stroke="#6a6a6a"/>
<polygon points="527.5,316 526.5,310.5 528.5,310.5" fill="#2a2a2a" stroke="none"/>
<polygon points="527.5,300 528.5,305.5 526.5,305.5" fill="#2a2a2a" stroke="none"/>
<text x="525.5" y="308" dy="1.8" font-size="7.7" text-anchor="middle" transform="rotate(-90 525.5 308)" textLength="15.1" lengthAdjust="spacingAndGlyphs" fill="#3a3a3a" stroke="#3a3a3a" stroke-width="0.25">16min</text>
<line x1="546" y1="339.5" x2="590" y2="339.5" stroke-width="0.75" stroke="#6a6a6a"/>
<polygon points="550.4,339.4 544.9,340.4 544.9,338.4" fill="#2a2a2a" stroke="none"/>
<polygon points="563.2,339.4 568.7,338.4 568.7,340.4" fill="#2a2a2a" stroke="none"/>
<text x="580" y="337" dy="1.8" font-size="7.7" text-anchor="middle" textLength="19.72" lengthAdjust="spacingAndGlyphs" fill="#3a3a3a" stroke="#3a3a3a" stroke-width="0.25">M12-7H</text>
<text x="563.3" y="351.5" font-size="6.5" text-anchor="middle" font-style="italic" textLength="3.61" lengthAdjust="spacingAndGlyphs" fill="#3a3a3a" stroke="#3a3a3a" stroke-width="0.25">II</text>
<line x1="558" y1="354.5" x2="568" y2="354.5" stroke-width="0.75" stroke="#6a6a6a"/>
<text x="563.3" y="361" font-size="6.5" text-anchor="middle" font-style="italic" textLength="10.94" lengthAdjust="spacingAndGlyphs" fill="#3a3a3a" stroke="#3a3a3a" stroke-width="0.25">M11</text>
<text x="564.75" y="367" dy="1.8" font-size="7.7" text-anchor="middle" textLength="11.47" lengthAdjust="spacingAndGlyphs" fill="#3a3a3a" stroke="#3a3a3a" stroke-width="0.25">120°</text>
<path d="M534 388.75 Q564.75 354 595.4 387.9" stroke-width="0.75" fill="none" />
<polygon points="534,388.75 535.88,383.49 537.62,384.49" fill="#2a2a2a" stroke="none"/>
<polygon points="595.4,387.9 591.78,383.64 593.52,382.64" fill="#2a2a2a" stroke="none"/>
<line x1="534" y1="388.75" x2="557.8" y2="401.9" stroke-width="0.75" stroke="#6a6a6a"/>
<line x1="595.4" y1="387.9" x2="571.7" y2="401.9" stroke-width="0.75" stroke="#6a6a6a"/>
<path d="M537.6 394.6 L591.9 394.6 C591 410 585 424 578 429 C572 432.5 568 432.5 564.5 432.5 C560 432.5 556 432 551 429 C543 424 538 410 537.6 394.6 Z" stroke-width="0.75" fill="url(#hL)" />
<path d="M541 394.6 L588 394.6 L571.7 401.9 L570 401.9 L570 422.9 L564.75 426.4 L560.4 422.9 L560.4 401.9 L557.8 401.9 Z" fill="#fff" stroke="none"/>
<path d="M537.6 394.6 L591.9 394.6 C591 410 585 424 578 429 C572 432.5 568 432.5 564.5 432.5 C560 432.5 556 432 551 429 C543 424 538 410 537.6 394.6 Z" stroke-width="0.85" fill="none" />
<line x1="537.6" y1="394.5" x2="591.9" y2="394.5" stroke-width="1.0"/>
<polyline points="537.6,394.6 557.8,401.9 571.7,401.9 591.9,394.6" stroke-width="1.0" fill="none"/>
<polyline points="560.4,401.9 560.4,422.9 564.75,426.4 570,422.9 570,401.9" stroke-width="1.0" fill="none"/>
<line x1="560.4" y1="422.5" x2="570" y2="422.5" stroke-width="0.85"/>
<line x1="564.5" y1="392" x2="564.5" y2="435" stroke-width="0.75" stroke-dasharray="3 1.5" stroke="#6a6a6a"/>
<line x1="556.5" y1="379" x2="556.5" y2="402" stroke-width="0.75" stroke="#6a6a6a"/>
<line x1="572.5" y1="379" x2="572.5" y2="395" stroke-width="0.75" stroke="#6a6a6a"/>
<line x1="556.9" y1="380.5" x2="572.6" y2="380.5" stroke-width="0.75" stroke="#6a6a6a"/>
<polygon points="572.6,380 567.1,381 567.1,379" fill="#2a2a2a" stroke="none"/>
<polygon points="556.9,380 562.4,379 562.4,381" fill="#2a2a2a" stroke="none"/>
<text x="564.75" y="377.3" dy="1.8" font-size="7.7" text-anchor="middle" textLength="10.48" lengthAdjust="spacingAndGlyphs" fill="#3a3a3a" stroke="#3a3a3a" stroke-width="0.25">Ø15</text>
<polygon points="566,384 571,387.5 566,391" stroke-width="0.75" fill="none" stroke="#6a6a6a"/>
<polygon points="574,384 579,387.5 574,391" stroke-width="0.75" fill="none" stroke="#6a6a6a"/>
<text x="567" y="388" font-size="4.6" text-anchor="middle" transform="rotate(-90 567 388)" textLength="4.6" lengthAdjust="spacingAndGlyphs" fill="#3a3a3a" stroke="#3a3a3a" stroke-width="0.25">3.2</text>
<text x="575" y="388" font-size="4.6" text-anchor="middle" transform="rotate(-90 575 388)" textLength="4.6" lengthAdjust="spacingAndGlyphs" fill="#3a3a3a" stroke="#3a3a3a" stroke-width="0.25">3.2</text>
<line x1="511" y1="394.5" x2="611" y2="394.5" stroke-width="0.75" stroke="#6a6a6a"/>
<line x1="511" y1="427.5" x2="560" y2="427.5" stroke-width="0.75" stroke="#6a6a6a"/>
<line x1="517" y1="422.5" x2="560.4" y2="422.5" stroke-width="0.75" stroke="#6a6a6a"/>
<line x1="528" y1="401.5" x2="557.8" y2="401.5" stroke-width="0.75" stroke="#6a6a6a"/>
<line x1="513.5" y1="394.6" x2="513.5" y2="427" stroke-width="0.75" stroke="#6a6a6a"/>
<polygon points="513,427 512,421.5 514,421.5" fill="#2a2a2a" stroke="none"/>
<polygon points="513,394.6 514,400.1 512,400.1" fill="#2a2a2a" stroke="none"/>
<text x="510.5" y="411" dy="1.8" font-size="7.7" text-anchor="middle" transform="rotate(-90 510.5 411)" textLength="6.17" lengthAdjust="spacingAndGlyphs" fill="#3a3a3a" stroke="#3a3a3a" stroke-width="0.25">29</text>
<text x="506.5" y="401" font-size="4.6" text-anchor="middle" transform="rotate(-90 506.5 401)" textLength="2.94" lengthAdjust="spacingAndGlyphs" fill="#3a3a3a" stroke="#3a3a3a" stroke-width="0.25">-2</text>
<line x1="521.5" y1="394.6" x2="521.5" y2="422.9" stroke-width="0.75" stroke="#6a6a6a"/>
<polygon points="521,422.9 520,417.4 522,417.4" fill="#2a2a2a" stroke="none"/>
<polygon points="521,394.6 522,400.1 520,400.1" fill="#2a2a2a" stroke="none"/>
<text x="519" y="408.5" dy="1.8" font-size="7.7" text-anchor="middle" transform="rotate(-90 519 408.5)" textLength="15.1" lengthAdjust="spacingAndGlyphs" fill="#3a3a3a" stroke="#3a3a3a" stroke-width="0.25">22min</text>
<line x1="531.5" y1="385" x2="531.5" y2="409" stroke-width="0.75" stroke="#6a6a6a"/>
<polygon points="531.5,394.6 530.5,389.1 532.5,389.1" fill="#2a2a2a" stroke="none"/>
<polygon points="531.5,401.9 532.5,407.4 530.5,407.4" fill="#2a2a2a" stroke="none"/>
<text x="529" y="411" dy="1.8" font-size="7.7" text-anchor="middle" transform="rotate(-90 529 411)" textLength="3.08" lengthAdjust="spacingAndGlyphs" fill="#3a3a3a" stroke="#3a3a3a" stroke-width="0.25">6</text>
<text x="525.5" y="405" font-size="4.6" text-anchor="middle" transform="rotate(-90 525.5 405)" textLength="3.78" lengthAdjust="spacingAndGlyphs" fill="#3a3a3a" stroke="#3a3a3a" stroke-width="0.25">+1</text>
<line x1="608.5" y1="383" x2="608.5" y2="418" stroke-width="0.75" stroke="#6a6a6a"/>
<polygon points="608.5,394.6 607.5,389.1 609.5,389.1" fill="#2a2a2a" stroke="none"/>
<text x="606" y="413" dy="1.8" font-size="7.7" text-anchor="middle" transform="rotate(-90 606 413)" textLength="12.02" lengthAdjust="spacingAndGlyphs" fill="#3a3a3a" stroke="#3a3a3a" stroke-width="0.25">1min</text>
<line x1="550.5" y1="440.5" x2="616.4" y2="440.5" stroke-width="0.75" stroke="#6a6a6a"/>
<polygon points="560.4,440.4 554.9,441.4 554.9,439.4" fill="#2a2a2a" stroke="none"/>
<polygon points="570,440.4 575.5,439.4 575.5,441.4" fill="#2a2a2a" stroke="none"/>
<line x1="560.5" y1="426" x2="560.5" y2="442" stroke-width="0.75" stroke="#6a6a6a"/>
<line x1="570.5" y1="426" x2="570.5" y2="442" stroke-width="0.75" stroke="#6a6a6a"/>
<text x="596" y="438.5" dy="1.8" font-size="7.7" text-anchor="middle" textLength="37.59" lengthAdjust="spacingAndGlyphs" fill="#3a3a3a" stroke="#3a3a3a" stroke-width="0.25">2holes M10-7H</text>
<text x="563.5" y="455.5" dy="1.8" font-size="7.7" text-anchor="middle" font-style="italic" textLength="6.42" lengthAdjust="spacingAndGlyphs" fill="#3a3a3a" stroke="#3a3a3a" stroke-width="0.25">III</text>
<line x1="557" y1="458.5" x2="570" y2="458.5" stroke-width="0.75" stroke="#6a6a6a"/>
<text x="561.8" y="464.5" dy="1.8" font-size="7.7" text-anchor="middle" textLength="11.47" lengthAdjust="spacingAndGlyphs" fill="#3a3a3a" stroke="#3a3a3a" stroke-width="0.25">120°</text>
<path d="M538.1 478.3 Q561.8 455 584.5 478.3" stroke-width="0.75" fill="none" />
<polygon points="538.1,478.3 540.44,473.22 542.07,474.37" fill="#2a2a2a" stroke="none"/>
<polygon points="584.5,478.3 580.53,474.37 582.16,473.22" fill="#2a2a2a" stroke="none"/>
<line x1="538.1" y1="478.3" x2="557" y2="488.75" stroke-width="0.75" stroke="#6a6a6a"/>
<line x1="584.5" y1="478.3" x2="565.8" y2="488.75" stroke-width="0.75" stroke="#6a6a6a"/>
<text x="561.8" y="475" dy="1.8" font-size="7.7" text-anchor="middle" textLength="20.95" lengthAdjust="spacingAndGlyphs" fill="#3a3a3a" stroke="#3a3a3a" stroke-width="0.25">Ø21max</text>
<line x1="550" y1="476.5" x2="575" y2="476.5" stroke-width="0.75" stroke="#6a6a6a"/>
<line x1="550" y1="476.5" x2="557" y2="482" stroke-width="0.75" stroke="#6a6a6a"/>
<text x="577" y="484" font-size="5.2" text-anchor="middle" transform="rotate(-60 577 484)" textLength="5.2" lengthAdjust="spacingAndGlyphs" fill="#3a3a3a" stroke="#3a3a3a" stroke-width="0.25">0.5</text>
<path d="M545.7 488.75 L577.5 488.75 C580 500 572 517 560 519.4 C551 519 546 512 545.7 505.4 Z" stroke-width="0.75" fill="url(#hS)" />
<rect x="557" y="488.75" width="8.8" height="18" fill="#fff" stroke="none"/>
<line x1="545.7" y1="488.5" x2="577.5" y2="488.5" stroke-width="1.0"/>
<polyline points="557.5,488.5 557.5,505.5 561.5,507.5 565.5,505.5 565.5,488.5" stroke-width="1.0" fill="none"/>
<line x1="557" y1="505.5" x2="565.8" y2="505.5" stroke-width="0.85"/>
<line x1="558.5" y1="489" x2="558.5" y2="505" stroke-width="0.75" stroke="#6a6a6a"/>
<line x1="564.5" y1="489" x2="564.5" y2="505" stroke-width="0.75" stroke="#6a6a6a"/>
<line x1="557.5" y1="482" x2="557.5" y2="528" stroke-width="0.75" stroke="#6a6a6a"/>
<line x1="565.5" y1="482" x2="565.5" y2="528" stroke-width="0.75" stroke="#6a6a6a"/>
<line x1="557" y1="482.5" x2="565.8" y2="482.5" stroke-width="0.75" stroke="#6a6a6a"/>
<polygon points="565.8,482 560.3,483 560.3,481" fill="#2a2a2a" stroke="none"/>
<polygon points="557,482 562.5,481 562.5,483" fill="#2a2a2a" stroke="none"/>
<line x1="524" y1="488.5" x2="546" y2="488.5" stroke-width="0.75" stroke="#6a6a6a"/>
<line x1="524" y1="507.5" x2="557" y2="507.5" stroke-width="0.75" stroke="#6a6a6a"/>
<line x1="526.5" y1="488.75" x2="526.5" y2="507.5" stroke-width="0.75" stroke="#6a6a6a"/>
<polygon points="526.75,507.5 525.75,502 527.75,502" fill="#2a2a2a" stroke="none"/>
<polygon points="526.75,488.75 527.75,494.25 525.75,494.25" fill="#2a2a2a" stroke="none"/>
<text x="524.5" y="498" dy="1.8" font-size="7.7" text-anchor="middle" transform="rotate(-90 524.5 498)" textLength="7.71" lengthAdjust="spacingAndGlyphs" fill="#3a3a3a" stroke="#3a3a3a" stroke-width="0.25">8.2</text>
<text x="520" y="490" font-size="4.6" text-anchor="middle" transform="rotate(-90 520 490)" textLength="2.94" lengthAdjust="spacingAndGlyphs" fill="#3a3a3a" stroke="#3a3a3a" stroke-width="0.25">-2</text>
<line x1="535" y1="478.5" x2="540" y2="478.5" stroke-width="0.75" stroke="#6a6a6a"/>
<line x1="537.5" y1="478.3" x2="537.5" y2="527" stroke-width="0.75" stroke="#6a6a6a"/>
<polygon points="537.25,527 536.25,521.5 538.25,521.5" fill="#2a2a2a" stroke="none"/>
<polygon points="537.25,478.3 538.25,483.8 536.25,483.8" fill="#2a2a2a" stroke="none"/>
<text x="535" y="515" dy="1.8" font-size="7.7" text-anchor="middle" transform="rotate(-90 535 515)" textLength="15.1" lengthAdjust="spacingAndGlyphs" fill="#3a3a3a" stroke="#3a3a3a" stroke-width="0.25">20min</text>
<line x1="546" y1="525.5" x2="616" y2="525.5" stroke-width="0.75" stroke="#6a6a6a"/>
<polygon points="557,525.9 551.5,526.9 551.5,524.9" fill="#2a2a2a" stroke="none"/>
<polygon points="565.8,525.9 571.3,524.9 571.3,526.9" fill="#2a2a2a" stroke="none"/>
<text x="595" y="523.5" dy="1.8" font-size="7.7" text-anchor="middle" textLength="37.59" lengthAdjust="spacingAndGlyphs" fill="#3a3a3a" stroke="#3a3a3a" stroke-width="0.25">6holes M20-7H</text>
<text x="80.7" y="347.5" dy="1.8" font-size="7.7" text-anchor="middle" font-style="italic" textLength="13.69" lengthAdjust="spacingAndGlyphs" fill="#3a3a3a" stroke="#3a3a3a" stroke-width="0.25">C-C</text>
<line x1="75" y1="349.5" x2="86" y2="349.5" stroke-width="0.75" stroke="#6a6a6a"/>
<text x="33" y="356.5" dy="1.8" font-size="7.7" text-anchor="middle" textLength="28.35" lengthAdjust="spacingAndGlyphs" fill="#3a3a3a" stroke="#3a3a3a" stroke-width="0.25">6holes Ø22</text>
<line x1="13.75" y1="358.5" x2="78.75" y2="358.5" stroke-width="0.75" stroke="#6a6a6a"/>
<polygon points="53.3,358.3 47.8,359.3 47.8,357.3" fill="#2a2a2a" stroke="none"/>
<polygon points="73.3,358.3 78.8,357.3 78.8,359.3" fill="#2a2a2a" stroke="none"/>
<line x1="58.5" y1="355" x2="58.5" y2="379.3" stroke-width="0.75" stroke="#6a6a6a"/>
<line x1="68.5" y1="355" x2="68.5" y2="379.3" stroke-width="0.75" stroke="#6a6a6a"/>
<path d="M55.4 360 C51 370 48 385 47.5 396 C47.5 415 52 428 56.7 436.25 C66 426 76 414 80 402.5 C83 390 82 375 73.3 363.3 C71 361 69 360.4 68 360.4 Z" stroke-width="0.75" fill="url(#hL)" />
<path d="M55.4 360 C51 370 49.5 375 49.2 379.3 L73.75 379.3 L73.75 362.5 C71 361 69 360.4 68 360.4 Z" fill="#fff" stroke="none"/>
<path d="M73.75 362.5 C80 368 82 376 82 385 L81.25 396.25 L47.6 396.25 C47.7 390 48.3 384 49.2 379.3 L73.75 379.3 Z" fill="url(#hS)" stroke="none"/>
<rect x="58.2" y="379.3" width="10.4" height="17" fill="#fff" stroke="none"/>
<rect x="58.3" y="396.25" width="9.6" height="17" fill="#fff" stroke="none"/>
<line x1="49.2" y1="379.5" x2="73.75" y2="379.5" stroke-width="1.35"/>
<line x1="73.5" y1="362.5" x2="73.5" y2="379.3" stroke-width="1.35"/>
<line x1="32" y1="379.5" x2="49" y2="379.5" stroke-width="0.75" stroke="#6a6a6a"/>
<line x1="34" y1="396.5" x2="81.25" y2="396.5" stroke-width="1.0"/>
<line x1="58.5" y1="379.3" x2="58.5" y2="396.25" stroke-width="1.0"/>
<line x1="68.5" y1="379.3" x2="68.5" y2="396.25" stroke-width="1.0"/>
<polyline points="58.3,396.25 58.3,413 63.3,415.5 67.9,413 67.9,396.25" stroke-width="1.0" fill="none"/>
<line x1="58.3" y1="408.5" x2="67.9" y2="408.5" stroke-width="1.0"/>
<line x1="63.5" y1="370" x2="63.5" y2="420" stroke-width="0.75" stroke-dasharray="6 1.5 1.5 1.5" stroke="#6a6a6a"/>
<path d="M55.4 360 C51 370 48 385 47.5 396 C47.5 415 52 428 56.7 436.25 C66 426 76 414 80 402.5 C83 390 82 375 73.3 363.3 C71 361 69 360.4 68 360.4 Z" stroke-width="0.85" fill="none" />
<circle cx="62.9" cy="406.25" r="11.5" stroke-width="0.75" fill="none"/>
<line x1="34.5" y1="379.3" x2="34.5" y2="396.25" stroke-width="0.75" stroke="#6a6a6a"/>
<polygon points="34.8,396.25 33.8,390.75 35.8,390.75" fill="#2a2a2a" stroke="none"/>
<polygon points="34.8,379.3 35.8,384.8 33.8,384.8" fill="#2a2a2a" stroke="none"/>
<text x="32.5" y="388" dy="1.8" font-size="7.7" text-anchor="middle" transform="rotate(-90 32.5 388)" textLength="6.17" lengthAdjust="spacingAndGlyphs" fill="#3a3a3a" stroke="#3a3a3a" stroke-width="0.25">35</text>
<polygon points="58.5,362 67.5,367 58.5,371" stroke-width="0.75" fill="none" stroke="#6a6a6a"/>
<text x="62" y="368" font-size="4.6" text-anchor="middle" transform="rotate(-90 62 368)" textLength="4.6" lengthAdjust="spacingAndGlyphs" fill="#3a3a3a" stroke="#3a3a3a" stroke-width="0.25">3.2</text>
<polyline points="74.2,414.2 88.3,425.4 97.5,425.4" stroke-width="0.75" fill="none" stroke="#6a6a6a"/>
<text x="92.5" y="423.5" font-size="6.5" text-anchor="middle" font-style="italic" textLength="5.42" lengthAdjust="spacingAndGlyphs" fill="#3a3a3a" stroke="#3a3a3a" stroke-width="0.25">III</text>
<text x="150.8" y="347" dy="1.8" font-size="7.7" text-anchor="middle" font-style="italic" textLength="11.97" lengthAdjust="spacingAndGlyphs" fill="#3a3a3a" stroke="#3a3a3a" stroke-width="0.25">F-F</text>
<line x1="145" y1="349.5" x2="156" y2="349.5" stroke-width="0.75" stroke="#6a6a6a"/>
<path d="M152.7 377.7 L165.5 377.7 C168 380 169 385 169.4 392 C170 400 170 405 169.7 409.6 C169 418 167 424 164.7 428 C161 433 155 436 151.3 437.2 C148 430 146.5 424 146.3 416.6 C146 408 145.5 404 145.6 399.7 C146.5 390 149 382 152.7 377.7 Z" stroke-width="0.75" fill="url(#hL)" />
<path d="M152.7 377.7 L165.5 377.7 C168 380 169 385 169.2 387.6 L148.3 387.6 C149.5 383 151 380 152.7 377.7 Z" fill="#fff" stroke="none"/>
<rect x="152.7" y="377.7" width="7.8" height="21.3" fill="#fff" stroke="none"/>
<rect x="154.1" y="399" width="5" height="20" fill="#fff" stroke="none"/>
<path d="M152.7 377.7 L165.5 377.7 C168 380 169 385 169.4 392 C170 400 170 405 169.7 409.6 C169 418 167 424 164.7 428 C161 433 155 436 151.3 437.2 C148 430 146.5 424 146.3 416.6 C146 408 145.5 404 145.6 399.7 C146.5 390 149 382 152.7 377.7 Z" stroke-width="0.85" fill="none" />
<line x1="152.5" y1="377.7" x2="152.5" y2="399" stroke-width="1.0"/>
<line x1="160.5" y1="377.7" x2="160.5" y2="399" stroke-width="1.0"/>
<line x1="152.7" y1="399.5" x2="160.5" y2="399.5" stroke-width="1.0"/>
<polyline points="154.1,399 154.1,418.8 156.6,421 159.1,418.8 159.1,399" stroke-width="1.0" fill="none"/>
<line x1="164.5" y1="377.7" x2="164.5" y2="387.6" stroke-width="1.0"/>
<line x1="160.5" y1="387.5" x2="164.7" y2="387.5" stroke-width="1.0"/>
<line x1="156.5" y1="374" x2="156.5" y2="424" stroke-width="0.75" stroke-dasharray="6 1.5 1.5 1.5" stroke="#6a6a6a"/>
<line x1="114.4" y1="387.5" x2="152.7" y2="387.5" stroke-width="0.75" stroke="#6a6a6a"/>
<line x1="125" y1="408.5" x2="170" y2="408.5" stroke-width="0.75" stroke="#6a6a6a"/>
<line x1="114.4" y1="418.5" x2="154.1" y2="418.5" stroke-width="0.75" stroke="#6a6a6a"/>
<line x1="134.9" y1="397.5" x2="154.1" y2="397.5" stroke-width="0.75" stroke="#6a6a6a"/>
<line x1="134.5" y1="361.6" x2="134.5" y2="408.9" stroke-width="0.75" stroke="#6a6a6a"/>
<polygon points="134.9,387.6 133.9,382.1 135.9,382.1" fill="#2a2a2a" stroke="none"/>
<polygon points="134.9,408.9 135.9,414.4 133.9,414.4" fill="#2a2a2a" stroke="none"/>
<line x1="132.5" y1="361.5" x2="137" y2="361.5" stroke-width="0.75" stroke="#6a6a6a"/>
<text x="132.5" y="372" dy="1.8" font-size="7.7" text-anchor="middle" transform="rotate(-90 132.5 372)" textLength="12.29" lengthAdjust="spacingAndGlyphs" fill="#3a3a3a" stroke="#3a3a3a" stroke-width="0.25">20±1</text>
<line x1="125.5" y1="387.6" x2="125.5" y2="408.9" stroke-width="0.75" stroke="#6a6a6a"/>
<polygon points="125.9,408.9 124.9,403.4 126.9,403.4" fill="#2a2a2a" stroke="none"/>
<polygon points="125.9,387.6 126.9,393.1 124.9,393.1" fill="#2a2a2a" stroke="none"/>
<text x="123.5" y="398.5" dy="1.8" font-size="7.7" text-anchor="middle" transform="rotate(-90 123.5 398.5)" textLength="6.17" lengthAdjust="spacingAndGlyphs" fill="#3a3a3a" stroke="#3a3a3a" stroke-width="0.25">40</text>
<line x1="116.5" y1="387.6" x2="116.5" y2="418.8" stroke-width="0.75" stroke="#6a6a6a"/>
<polygon points="116.3,418.8 115.3,413.3 117.3,413.3" fill="#2a2a2a" stroke="none"/>
<polygon points="116.3,387.6 117.3,393.1 115.3,393.1" fill="#2a2a2a" stroke="none"/>
<text x="114" y="404" dy="1.8" font-size="7.7" text-anchor="middle" transform="rotate(-90 114 404)" textLength="6.17" lengthAdjust="spacingAndGlyphs" fill="#3a3a3a" stroke="#3a3a3a" stroke-width="0.25">60</text>
<text x="110.5" y="397.5" font-size="4.6" text-anchor="middle" transform="rotate(-90 110.5 397.5)" textLength="2.94" lengthAdjust="spacingAndGlyphs" fill="#3a3a3a" stroke="#3a3a3a" stroke-width="0.25">-2</text>
<line x1="142" y1="370.5" x2="183.3" y2="370.5" stroke-width="0.75" stroke="#6a6a6a"/>
<polygon points="152.7,370.2 147.2,371.2 147.2,369.2" fill="#2a2a2a" stroke="none"/>
<polygon points="160.5,370.2 166,369.2 166,371.2" fill="#2a2a2a" stroke="none"/>
<line x1="152.5" y1="361" x2="152.5" y2="377" stroke-width="0.75" stroke="#6a6a6a"/>
<line x1="160.5" y1="358" x2="160.5" y2="377" stroke-width="0.75" stroke="#6a6a6a"/>
<text x="177.6" y="369" dy="1.8" font-size="7.7" text-anchor="middle" textLength="10.48" lengthAdjust="spacingAndGlyphs" fill="#3a3a3a" stroke="#3a3a3a" stroke-width="0.25">Ø15</text>
<polygon points="153,358 160,362 153,366" stroke-width="0.75" fill="none" stroke="#6a6a6a"/>
<text x="151" y="362" font-size="4.6" text-anchor="middle" transform="rotate(-90 151 362)" textLength="4.6" lengthAdjust="spacingAndGlyphs" fill="#3a3a3a" stroke="#3a3a3a" stroke-width="0.25">6.3</text>
<line x1="142.8" y1="429.5" x2="228.4" y2="429.5" stroke-width="0.75" stroke="#6a6a6a"/>
<polygon points="149.2,429.4 143.7,430.4 143.7,428.4" fill="#2a2a2a" stroke="none"/>
<polygon points="164,429.4 169.5,428.4 169.5,430.4" fill="#2a2a2a" stroke="none"/>
<text x="193.9" y="427.5" dy="1.8" font-size="7.7" text-anchor="middle" textLength="35.44" lengthAdjust="spacingAndGlyphs" fill="#3a3a3a" stroke="#3a3a3a" stroke-width="0.25">2holes Ø13H7</text>
<text x="222" y="423.5" font-size="4.6" text-anchor="middle" textLength="10.22" lengthAdjust="spacingAndGlyphs" fill="#3a3a3a" stroke="#3a3a3a" stroke-width="0.25">+0.018</text>
<polyline points="155,440 163,437 158,444" stroke-width="0.75" fill="none" stroke="#6a6a6a"/>
<text x="161" y="442" font-size="5.2" text-anchor="middle" transform="rotate(-60 161 442)" textLength="5.2" lengthAdjust="spacingAndGlyphs" fill="#3a3a3a" stroke="#3a3a3a" stroke-width="0.25">2.5</text>
<text x="42.5" y="455" dy="1.8" font-size="7.7" text-anchor="middle" font-style="italic" textLength="20.6" lengthAdjust="spacingAndGlyphs" fill="#3a3a3a" stroke="#3a3a3a" stroke-width="0.25">E M11</text>
<path d="M1 505 C3 490 12 478 36.7 474.2 C55 472 66 488 69.2 505 C71 518 65 523 50 523.3 C35 523 15 520 5 515 C0 512 0 508 1 505 Z" stroke-width="0.75" fill="none" />
<path d="M33.7 488.3 L44.7 488.3 A10.45 10.45 0 0 1 44.7 509.2 L33.7 509.2 A10.45 10.45 0 0 1 33.7 488.3 Z" stroke-width="1.35" fill="none" />
<circle cx="44.7" cy="498.5" r="5.3" stroke-width="1.0" fill="none"/>
<line x1="20.8" y1="498.5" x2="56.7" y2="498.5" stroke-width="0.75" stroke-dasharray="5 1.5 1.5 1.5" stroke="#6a6a6a"/>
<line x1="34.5" y1="485" x2="34.5" y2="512.5" stroke-width="0.75" stroke-dasharray="5 1.5 1.5 1.5" stroke="#6a6a6a"/>
<line x1="44.5" y1="485" x2="44.5" y2="512.5" stroke-width="0.75" stroke-dasharray="5 1.5 1.5 1.5" stroke="#6a6a6a"/>
<line x1="11" y1="488.5" x2="34" y2="488.5" stroke-width="0.75" stroke="#6a6a6a"/>
<line x1="11" y1="509.5" x2="34" y2="509.5" stroke-width="0.75" stroke="#6a6a6a"/>
<line x1="13.5" y1="488.3" x2="13.5" y2="509.2" stroke-width="0.75" stroke="#6a6a6a"/>
<polygon points="13.7,509.2 12.7,503.7 14.7,503.7" fill="#2a2a2a" stroke="none"/>
<polygon points="13.7,488.3 14.7,493.8 12.7,493.8" fill="#2a2a2a" stroke="none"/>
<text x="11.5" y="499" dy="1.8" font-size="7.7" text-anchor="middle" transform="rotate(-90 11.5 499)" textLength="6.17" lengthAdjust="spacingAndGlyphs" fill="#3a3a3a" stroke="#3a3a3a" stroke-width="0.25">20</text>
<line x1="46" y1="497" x2="76.7" y2="475.8" stroke-width="0.75" stroke="#6a6a6a"/>
<line x1="76.7" y1="475.5" x2="86" y2="475.5" stroke-width="0.75" stroke="#6a6a6a"/>
<polygon points="53.5,491.8 57.36,487.76 58.54,489.38" fill="#2a2a2a" stroke="none"/>
<text x="81.7" y="474.5" dy="1.8" font-size="7.7" text-anchor="middle" textLength="10.17" lengthAdjust="spacingAndGlyphs" fill="#3a3a3a" stroke="#3a3a3a" stroke-width="0.25">R10</text>
<text x="66" y="475" font-size="5.2" text-anchor="middle" transform="rotate(-50 66 475)" textLength="5.2" lengthAdjust="spacingAndGlyphs" fill="#3a3a3a" stroke="#3a3a3a" stroke-width="0.25">0.5</text>
<text x="187" y="487.5" font-size="6.8" text-anchor="middle" font-style="italic" textLength="24.09" lengthAdjust="spacingAndGlyphs" fill="#3a3a3a" stroke="#3a3a3a" stroke-width="0.25">G rotated</text>
<path d="M159.6 512.8 C165 506 175 504 184.5 504.4 C195 504 208 504 213 505.6 C216 513 216 522 214.2 529.4 C213 533 211 536 208.3 536.5 C195 535 175 533 165.5 531.8 C160 529 158 524 158.4 521 C158.5 517 159 514 159.6 512.8 Z" stroke-width="0.75" fill="none" />
<line x1="159.6" y1="511.5" x2="213" y2="511.5" stroke-width="0.75" stroke="#6a6a6a"/>
<line x1="159.6" y1="530.5" x2="214" y2="530.5" stroke-width="0.75" stroke="#6a6a6a"/>
<line x1="172.5" y1="511.6" x2="172.5" y2="536" stroke-width="0.85"/>
<line x1="203.5" y1="511.6" x2="203.5" y2="536" stroke-width="0.85"/>
<line x1="155" y1="521.5" x2="218" y2="521.5" stroke-width="0.75" stroke-dasharray="6 1.5 1.5 1.5" stroke="#6a6a6a"/>
<circle cx="187.6" cy="521" r="4.3" stroke-width="1.0" fill="none"/>
<circle cx="176.2" cy="521" r="2.2" stroke-width="1.0" fill="none"/>
<circle cx="199.2" cy="521" r="2.2" stroke-width="1.0" fill="none"/>
<line x1="176.5" y1="516" x2="176.5" y2="526" stroke-width="0.75" stroke="#6a6a6a"/>
<line x1="199.5" y1="516" x2="199.5" y2="526" stroke-width="0.75" stroke="#6a6a6a"/>
<line x1="187.5" y1="514" x2="187.5" y2="540" stroke-width="0.75" stroke="#6a6a6a"/>
<line x1="176.5" y1="526" x2="176.5" y2="560" stroke-width="0.75" stroke="#6a6a6a"/>
<line x1="203.5" y1="536" x2="203.5" y2="560" stroke-width="0.75" stroke="#6a6a6a"/>
<line x1="172.5" y1="536" x2="172.5" y2="560" stroke-width="0.75" stroke="#6a6a6a"/>
<line x1="145" y1="511.5" x2="160" y2="511.5" stroke-width="0.75" stroke="#6a6a6a"/>
<line x1="145" y1="530.5" x2="160" y2="530.5" stroke-width="0.75" stroke="#6a6a6a"/>
<line x1="148.5" y1="490" x2="148.5" y2="541" stroke-width="0.75" stroke="#6a6a6a"/>
<polygon points="148.2,511.6 147.2,506.1 149.2,506.1" fill="#2a2a2a" stroke="none"/>
<polygon points="148.2,530.6 149.2,536.1 147.2,536.1" fill="#2a2a2a" stroke="none"/>
<text x="146" y="500" dy="1.8" font-size="7.7" text-anchor="middle" transform="rotate(-90 146 500)" textLength="16.92" lengthAdjust="spacingAndGlyphs" fill="#3a3a3a" stroke="#3a3a3a" stroke-width="0.25">16±0.5</text>
<rect x="177" y="541" width="10" height="6" fill="none" stroke-width="0.45"/><rect x="188" y="541" width="10" height="6" fill="none" stroke-width="0.45"/>
<text x="182" y="546" font-size="5.2" text-anchor="middle" textLength="7.29" lengthAdjust="spacingAndGlyphs" fill="#3a3a3a" stroke="#3a3a3a" stroke-width="0.25">22.5</text>
<text x="193" y="546" font-size="5.2" text-anchor="middle" textLength="7.29" lengthAdjust="spacingAndGlyphs" fill="#3a3a3a" stroke="#3a3a3a" stroke-width="0.25">22.5</text>
<line x1="172.6" y1="557.5" x2="203.5" y2="557.5" stroke-width="0.75" stroke="#6a6a6a"/>
<polygon points="203.5,557.4 198,558.4 198,556.4" fill="#2a2a2a" stroke="none"/>
<polygon points="172.6,557.4 178.1,556.4 178.1,558.4" fill="#2a2a2a" stroke="none"/>
<text x="186" y="555" dy="1.8" font-size="7.7" text-anchor="middle" textLength="6.17" lengthAdjust="spacingAndGlyphs" fill="#3a3a3a" stroke="#3a3a3a" stroke-width="0.25">62</text>
<text x="192" y="552" font-size="4.6" text-anchor="middle" textLength="3.78" lengthAdjust="spacingAndGlyphs" fill="#3a3a3a" stroke="#3a3a3a" stroke-width="0.25">+1</text>
<polyline points="93.5,553.5 148.5,553.5 179.5,514.5" stroke-width="0.75" fill="none" stroke="#6a6a6a"/>
<text x="120.4" y="551" dy="1.8" font-size="7.7" text-anchor="middle" textLength="45.96" lengthAdjust="spacingAndGlyphs" fill="#3a3a3a" stroke="#3a3a3a" stroke-width="0.25">M8-7H max x 120°</text>
<text x="115.6" y="560.5" dy="1.8" font-size="7.7" text-anchor="middle" font-style="italic" textLength="20.42" lengthAdjust="spacingAndGlyphs" fill="#3a3a3a" stroke="#3a3a3a" stroke-width="0.25">8holes</text>
<polyline points="190.5,524.5 229.5,561.5 250.5,561.5" stroke-width="0.75" fill="none" stroke="#6a6a6a"/>
<text x="239.6" y="559.5" dy="1.8" font-size="7.7" text-anchor="middle" textLength="17.56" lengthAdjust="spacingAndGlyphs" fill="#3a3a3a" stroke="#3a3a3a" stroke-width="0.25">Ø16H7</text>
<text x="238.7" y="567" dy="1.8" font-size="7.7" text-anchor="middle" font-style="italic" textLength="22.34" lengthAdjust="spacingAndGlyphs" fill="#3a3a3a" stroke="#3a3a3a" stroke-width="0.25">2 holes</text>
<polyline points="221.5,548.5 226.5,552.5 228.5,544.5" stroke-width="0.75" fill="none" stroke="#6a6a6a"/>
<text x="224" y="546" font-size="5.2" text-anchor="middle" transform="rotate(-45 224 546)" textLength="5.2" lengthAdjust="spacingAndGlyphs" fill="#3a3a3a" stroke="#3a3a3a" stroke-width="0.25">2.5</text>
<text x="340" y="312" dy="1.8" font-size="7.7" text-anchor="middle" font-style="italic" textLength="5.14" lengthAdjust="spacingAndGlyphs" fill="#3a3a3a" stroke="#3a3a3a" stroke-width="0.25">B</text>
<rect x="333.7" y="325.8" width="11.6" height="6.4" fill="none" stroke-width="0.5"/>
<text x="339.5" y="329.8" dy="1.8" font-size="7.7" text-anchor="middle" textLength="9.25" lengthAdjust="spacingAndGlyphs" fill="#3a3a3a" stroke="#3a3a3a" stroke-width="0.25">290</text>
<line x1="264.2" y1="332.5" x2="415" y2="332.5" stroke-width="0.75" stroke="#6a6a6a"/>
<polygon points="264.2,332.5 269.7,331.5 269.7,333.5" fill="#2a2a2a" stroke="none"/>
<polygon points="415,332.5 409.5,333.5 409.5,331.5" fill="#2a2a2a" stroke="none"/>
<path d="M248.5 426.9 L248.5 345.5 L430.5 345.5 L430.5 427.5" stroke-width="1.35" fill="none" />
<line x1="250" y1="345.5" x2="430.4" y2="345.5" stroke-width="1.35"/>
<line x1="248.3" y1="427.5" x2="430.4" y2="427.5" stroke-width="1.0"/>
<path d="M249.5 420 L249.5 352.5 L267.5 352.5 A5.8 5.8 0 0 1 273.3 358.3 L273.3 414.2 A5.8 5.8 0 0 1 267.5 420 Z" stroke-width="0.85" fill="none" />
<path d="M430.4 352.5 L411.3 352.5 A5.8 5.8 0 0 0 405.5 358.3 L405.5 413.1 A5.8 5.8 0 0 0 411.3 418.9 L430.4 418.9" stroke-width="0.85" fill="none" />
<circle cx="264" cy="362" r="6.5" stroke-width="0.85" fill="none"/>
<circle cx="264" cy="362" r="4.25" stroke-width="0.85" fill="none"/>
<line x1="255.5" y1="362.5" x2="257" y2="362.5" stroke-width="0.75" stroke="#6a6a6a"/>
<line x1="271" y1="362.5" x2="272.5" y2="362.5" stroke-width="0.75" stroke="#6a6a6a"/>
<circle cx="415.3" cy="362" r="6.5" stroke-width="0.85" fill="none"/>
<circle cx="415.3" cy="362" r="4.25" stroke-width="0.85" fill="none"/>
<line x1="406.8" y1="362.5" x2="408.3" y2="362.5" stroke-width="0.75" stroke="#6a6a6a"/>
<line x1="422.3" y1="362.5" x2="423.8" y2="362.5" stroke-width="0.75" stroke="#6a6a6a"/>
<circle cx="264" cy="386" r="6.5" stroke-width="0.85" fill="none"/>
<circle cx="264" cy="386" r="4.25" stroke-width="0.85" fill="none"/>
<line x1="255.5" y1="386.5" x2="257" y2="386.5" stroke-width="0.75" stroke="#6a6a6a"/>
<line x1="271" y1="386.5" x2="272.5" y2="386.5" stroke-width="0.75" stroke="#6a6a6a"/>
<circle cx="415.3" cy="386" r="6.5" stroke-width="0.85" fill="none"/>
<circle cx="415.3" cy="386" r="4.25" stroke-width="0.85" fill="none"/>
<line x1="406.8" y1="386.5" x2="408.3" y2="386.5" stroke-width="0.75" stroke="#6a6a6a"/>
<line x1="422.3" y1="386.5" x2="423.8" y2="386.5" stroke-width="0.75" stroke="#6a6a6a"/>
<circle cx="264" cy="409.3" r="6.5" stroke-width="0.85" fill="none"/>
<circle cx="264" cy="409.3" r="4.25" stroke-width="0.85" fill="none"/>
<line x1="255.5" y1="409.5" x2="257" y2="409.5" stroke-width="0.75" stroke="#6a6a6a"/>
<line x1="271" y1="409.5" x2="272.5" y2="409.5" stroke-width="0.75" stroke="#6a6a6a"/>
<circle cx="415.3" cy="409.3" r="6.5" stroke-width="0.85" fill="none"/>
<circle cx="415.3" cy="409.3" r="4.25" stroke-width="0.85" fill="none"/>
<line x1="406.8" y1="409.5" x2="408.3" y2="409.5" stroke-width="0.75" stroke="#6a6a6a"/>
<line x1="422.3" y1="409.5" x2="423.8" y2="409.5" stroke-width="0.75" stroke="#6a6a6a"/>
<ellipse cx="283" cy="406.3" rx="6.9" ry="8.3" stroke-width="0.7"/>
<ellipse cx="284.7" cy="406.3" rx="2.7" ry="5.3" stroke-width="0.7"/>
<line x1="274.5" y1="406.5" x2="291.5" y2="406.5" stroke-width="0.75" stroke="#6a6a6a"/>
<line x1="283.5" y1="397" x2="283.5" y2="416" stroke-width="0.75" stroke="#6a6a6a"/>
<ellipse cx="396.7" cy="406.3" rx="6.9" ry="8.3" stroke-width="0.7"/>
<ellipse cx="394.0" cy="406.3" rx="2.7" ry="5.3" stroke-width="0.7"/>
<line x1="388.2" y1="406.5" x2="405.2" y2="406.5" stroke-width="0.75" stroke="#6a6a6a"/>
<line x1="396.5" y1="397" x2="396.5" y2="416" stroke-width="0.75" stroke="#6a6a6a"/>
<rect x="329.3" y="383.3" width="20.3" height="15.6" stroke-width="0.8"/>
<circle cx="339.7" cy="391" r="3.3" stroke-width="0.85" fill="none"/>
<circle cx="339.7" cy="391" r="2.2" stroke-width="0.85" fill="none"/>
<line x1="335" y1="391.5" x2="344.5" y2="391.5" stroke-width="0.75" stroke="#6a6a6a"/>
<line x1="329.3" y1="376.5" x2="349.6" y2="376.5" stroke-width="0.75" stroke="#6a6a6a"/>
<polygon points="349.6,376.3 344.1,377.3 344.1,375.3" fill="#2a2a2a" stroke="none"/>
<polygon points="329.3,376.3 334.8,375.3 334.8,377.3" fill="#2a2a2a" stroke="none"/>
<line x1="329.5" y1="373" x2="329.5" y2="383.3" stroke-width="0.75" stroke="#6a6a6a"/>
<line x1="349.5" y1="373" x2="349.5" y2="383.3" stroke-width="0.75" stroke="#6a6a6a"/>
<text x="337.5" y="374.3" dy="1.8" font-size="7.7" text-anchor="middle" textLength="6.17" lengthAdjust="spacingAndGlyphs" fill="#3a3a3a" stroke="#3a3a3a" stroke-width="0.25">38</text>
<text x="345" y="371.5" font-size="5.2" text-anchor="middle" textLength="4.27" lengthAdjust="spacingAndGlyphs" fill="#3a3a3a" stroke="#3a3a3a" stroke-width="0.25">+1</text>
<line x1="320.5" y1="361" x2="320.5" y2="398.7" stroke-width="0.75" stroke="#6a6a6a"/>
<polygon points="320.4,383.3 319.4,377.8 321.4,377.8" fill="#2a2a2a" stroke="none"/>
<polygon points="320.4,398.9 321.4,404.4 319.4,404.4" fill="#2a2a2a" stroke="none"/>
<line x1="318" y1="383.5" x2="329.3" y2="383.5" stroke-width="0.75" stroke="#6a6a6a"/>
<line x1="318" y1="398.5" x2="329.3" y2="398.5" stroke-width="0.75" stroke="#6a6a6a"/>
<text x="318.5" y="369.5" dy="1.8" font-size="7.7" text-anchor="middle" transform="rotate(-90 318.5 369.5)" textLength="12.29" lengthAdjust="spacingAndGlyphs" fill="#3a3a3a" stroke="#3a3a3a" stroke-width="0.25">30±1</text>
<line x1="264.5" y1="330.8" x2="264.5" y2="427" stroke-width="0.75" stroke-dasharray="8 1.5 1.5 1.5" stroke="#6a6a6a"/>
<line x1="415.5" y1="330.8" x2="415.5" y2="427" stroke-width="0.75" stroke-dasharray="8 1.5 1.5 1.5" stroke="#6a6a6a"/>
<line x1="339.5" y1="340.8" x2="339.5" y2="482.5" stroke-width="0.75" stroke-dasharray="8 1.5 1.5 1.5" stroke="#6a6a6a"/>
<line x1="379.5" y1="345.3" x2="379.5" y2="406" stroke-width="0.75" stroke="#6a6a6a"/>
<polygon points="379.7,345.3 380.7,350.8 378.7,350.8" fill="#2a2a2a" stroke="none"/>
<polygon points="379.7,406 378.7,400.5 380.7,400.5" fill="#2a2a2a" stroke="none"/>
<line x1="377" y1="406.5" x2="392" y2="406.5" stroke-width="0.75" stroke="#6a6a6a"/>
<text x="376.6" y="376" dy="1.8" font-size="7.7" text-anchor="middle" transform="rotate(-90 376.6 376)" textLength="8.84" lengthAdjust="spacingAndGlyphs" fill="#3a3a3a" stroke="#3a3a3a" stroke-width="0.25">115</text>
<line x1="422.9" y1="362.5" x2="449" y2="362.5" stroke-width="0.75" stroke="#6a6a6a"/>
<line x1="422.9" y1="386.5" x2="449" y2="386.5" stroke-width="0.75" stroke="#6a6a6a"/>
<line x1="422.9" y1="409.5" x2="449" y2="409.5" stroke-width="0.75" stroke="#6a6a6a"/>
<line x1="430.4" y1="419.5" x2="449" y2="419.5" stroke-width="0.75" stroke="#6a6a6a"/>
<line x1="412" y1="351.5" x2="462" y2="351.5" stroke-width="0.75" stroke="#6a6a6a"/>
<line x1="446.5" y1="362" x2="446.5" y2="450" stroke-width="0.75" stroke="#6a6a6a"/>
<polygon points="446.5,362 447.5,367.5 445.5,367.5" fill="#2a2a2a" stroke="none"/>
<polygon points="446.5,386 445.5,380.5 447.5,380.5" fill="#2a2a2a" stroke="none"/>
<polygon points="446.5,386 447.5,391.5 445.5,391.5" fill="#2a2a2a" stroke="none"/>
<polygon points="446.5,409.3 445.5,403.8 447.5,403.8" fill="#2a2a2a" stroke="none"/>
<polygon points="446.5,409.3 447.5,414.8 445.5,414.8" fill="#2a2a2a" stroke="none"/>
<polygon points="446.5,419.2 445.5,413.7 447.5,413.7" fill="#2a2a2a" stroke="none"/>
<polygon points="446.5,428.6 447.5,434.1 445.5,434.1" fill="#2a2a2a" stroke="none"/>
<polygon points="446.5,441 445.5,435.5 447.5,435.5" fill="#2a2a2a" stroke="none"/>
<rect x="439.5" y="367.7" width="6" height="9.5" fill="none" stroke-width="0.45"/>
<text x="444.5" y="372.5" font-size="6.5" text-anchor="middle" transform="rotate(-90 444.5 372.5)" textLength="5.21" lengthAdjust="spacingAndGlyphs" fill="#3a3a3a" stroke="#3a3a3a" stroke-width="0.25">45</text>
<rect x="439.5" y="392.7" width="6" height="9.5" fill="none" stroke-width="0.45"/>
<text x="444.5" y="397.5" font-size="6.5" text-anchor="middle" transform="rotate(-90 444.5 397.5)" textLength="5.21" lengthAdjust="spacingAndGlyphs" fill="#3a3a3a" stroke="#3a3a3a" stroke-width="0.25">45</text>
<rect x="439.5" y="409.2" width="6" height="9.5" fill="none" stroke-width="0.45"/>
<text x="444.5" y="414" font-size="6.5" text-anchor="middle" transform="rotate(-90 444.5 414)" textLength="5.21" lengthAdjust="spacingAndGlyphs" fill="#3a3a3a" stroke="#3a3a3a" stroke-width="0.25">20</text>
<rect x="439.5" y="430.2" width="6" height="9.5" fill="none" stroke-width="0.45"/>
<text x="444.5" y="435" font-size="6.5" text-anchor="middle" transform="rotate(-90 444.5 435)" textLength="5.21" lengthAdjust="spacingAndGlyphs" fill="#3a3a3a" stroke="#3a3a3a" stroke-width="0.25">20</text>
<line x1="459.5" y1="351.7" x2="459.5" y2="418.9" stroke-width="0.75" stroke="#6a6a6a"/>
<polygon points="459.7,418.9 458.7,413.4 460.7,413.4" fill="#2a2a2a" stroke="none"/>
<polygon points="459.7,351.7 460.7,357.2 458.7,357.2" fill="#2a2a2a" stroke="none"/>
<text x="457" y="386" dy="1.8" font-size="7.7" text-anchor="middle" transform="rotate(-90 457 386)" textLength="9.25" lengthAdjust="spacingAndGlyphs" fill="#3a3a3a" stroke="#3a3a3a" stroke-width="0.25">130</text>
<line x1="459.5" y1="428.6" x2="459.5" y2="450.3" stroke-width="0.75" stroke="#6a6a6a"/>
<polygon points="459.7,450.3 458.7,444.8 460.7,444.8" fill="#2a2a2a" stroke="none"/>
<polygon points="459.7,428.6 460.7,434.1 458.7,434.1" fill="#2a2a2a" stroke="none"/>
<text x="457" y="439.5" dy="1.8" font-size="7.7" text-anchor="middle" transform="rotate(-90 457 439.5)" textLength="6.17" lengthAdjust="spacingAndGlyphs" fill="#3a3a3a" stroke="#3a3a3a" stroke-width="0.25">40</text>
<line x1="430.4" y1="428.5" x2="462" y2="428.5" stroke-width="0.75" stroke="#6a6a6a"/>
<line x1="424.4" y1="450.5" x2="462" y2="450.5" stroke-width="0.75" stroke="#6a6a6a"/>
<line x1="422" y1="441.5" x2="449" y2="441.5" stroke-width="0.75" stroke="#6a6a6a"/>
<polyline points="460.5,423.5 480.5,420.5 486.5,420.5" stroke-width="0.75" fill="none" stroke="#6a6a6a"/>
<text x="482.5" y="418" dy="1.8" font-size="7.7" text-anchor="middle" textLength="6.17" lengthAdjust="spacingAndGlyphs" fill="#3a3a3a" stroke="#3a3a3a" stroke-width="0.25">15</text>
<circle cx="459.5" cy="428.3" r="1.1" stroke-width="0" fill="#2a2a2a"/>
<polyline points="460.5,429.5 481.5,431.5 486.5,431.5" stroke-width="0.75" fill="none" stroke="#6a6a6a"/>
<text x="483.5" y="429.5" dy="1.8" font-size="7.7" text-anchor="middle" textLength="3.08" lengthAdjust="spacingAndGlyphs" fill="#3a3a3a" stroke="#3a3a3a" stroke-width="0.25">5</text>
<line x1="482" y1="406.5" x2="492.5" y2="406.5" stroke-width="1.0"/>
<line x1="491.5" y1="406.5" x2="491.5" y2="416.5" stroke-width="0.75" stroke="#6a6a6a"/>
<polygon points="491.5,407.3 492.4,410.3 490.6,410.3" fill="#2a2a2a" stroke="none"/>
<text x="495.5" y="414" dy="1.8" font-size="7.7" text-anchor="middle" font-style="italic" textLength="5.56" lengthAdjust="spacingAndGlyphs" fill="#3a3a3a" stroke="#3a3a3a" stroke-width="0.25">D</text>
<text x="372.2" y="424.5" dy="1.8" font-size="7.7" text-anchor="middle" textLength="10.17" lengthAdjust="spacingAndGlyphs" fill="#3a3a3a" stroke="#3a3a3a" stroke-width="0.25">R20</text>
<line x1="366" y1="426" x2="405.5" y2="413.9" stroke-width="0.75" stroke="#6a6a6a"/>
<polygon points="405.5,413.9 400.45,416.29 399.93,414.36" fill="#2a2a2a" stroke="none"/>
<polyline points="381.5,420.5 385.5,424.5 390.5,413.5" stroke-width="0.75" fill="none" stroke="#6a6a6a"/>
<text x="386" y="417" font-size="5.2" text-anchor="middle" transform="rotate(-60 386 417)" textLength="7.29" lengthAdjust="spacingAndGlyphs" fill="#3a3a3a" stroke="#3a3a3a" stroke-width="0.25">0.57</text>
<path d="M254.6 428.6 L254.6 451 L258.5 454.9 L420.4 454.9 Q424.4 454.9 424.4 450.9 L424.4 428.6" stroke-width="1.0" fill="none" />
<path d="M257.5 430 L257.5 450.4 L265 450.4 A10.2 10.2 0 0 0 265 430 Z" stroke-width="1.0" fill="none" />
<path d="M422.2 430 L411 430 A10.2 10.2 0 0 0 411 450.4 L422.2 450.4" stroke-width="1.0" fill="none" />
<circle cx="267.5" cy="440.25" r="2.8" stroke-width="1.0" fill="none"/>
<circle cx="267.5" cy="440.25" r="1.8" stroke-width="0.85" fill="none"/>
<line x1="263.5" y1="440.5" x2="271.5" y2="440.5" stroke-width="0.75" stroke="#6a6a6a"/>
<line x1="267.5" y1="436" x2="267.5" y2="444.5" stroke-width="0.75" stroke="#6a6a6a"/>
<circle cx="411.25" cy="440.25" r="2.8" stroke-width="1.0" fill="none"/>
<circle cx="411.25" cy="440.25" r="1.8" stroke-width="0.85" fill="none"/>
<line x1="407.25" y1="440.5" x2="415.25" y2="440.5" stroke-width="0.75" stroke="#6a6a6a"/>
<line x1="411.5" y1="436" x2="411.5" y2="444.5" stroke-width="0.75" stroke="#6a6a6a"/>
<rect x="318.3" y="433" width="42.1" height="20.3" stroke-width="0.8"/>
<line x1="337.5" y1="438.5" x2="342" y2="438.5" stroke-width="0.85"/>
<line x1="339.5" y1="436" x2="339.5" y2="441" stroke-width="0.85"/>
<circle cx="339.7" cy="438.5" r="1.2" stroke-width="0.75" fill="none"/>
<line x1="318.3" y1="419.5" x2="360.4" y2="419.5" stroke-width="0.75" stroke="#6a6a6a"/>
<polygon points="360.4,419.2 354.9,420.2 354.9,418.2" fill="#2a2a2a" stroke="none"/>
<polygon points="318.3,419.2 323.8,418.2 323.8,420.2" fill="#2a2a2a" stroke="none"/>
<line x1="318.5" y1="416" x2="318.5" y2="433" stroke-width="0.75" stroke="#6a6a6a"/>
<line x1="360.5" y1="416" x2="360.5" y2="433" stroke-width="0.75" stroke="#6a6a6a"/>
<text x="337" y="418" dy="1.8" font-size="7.7" text-anchor="middle" textLength="6.17" lengthAdjust="spacingAndGlyphs" fill="#3a3a3a" stroke="#3a3a3a" stroke-width="0.25">81</text>
<text x="344" y="414" font-size="5.2" text-anchor="middle" textLength="4.27" lengthAdjust="spacingAndGlyphs" fill="#3a3a3a" stroke="#3a3a3a" stroke-width="0.25">+1</text>
<text x="385" y="449.5" dy="1.8" font-size="7.7" text-anchor="middle" textLength="10.17" lengthAdjust="spacingAndGlyphs" fill="#3a3a3a" stroke="#3a3a3a" stroke-width="0.25">R20</text>
<line x1="379" y1="451" x2="405" y2="441.5" stroke-width="0.75" stroke="#6a6a6a"/>
<polygon points="405,441.5 400.17,444.32 399.49,442.44" fill="#2a2a2a" stroke="none"/>
<polyline points="394.5,443.5 398.5,447.5 403.5,436.5" stroke-width="0.75" fill="none" stroke="#6a6a6a"/>
<text x="399" y="440" font-size="5.2" text-anchor="middle" transform="rotate(-60 399 440)" textLength="7.29" lengthAdjust="spacingAndGlyphs" fill="#3a3a3a" stroke="#3a3a3a" stroke-width="0.25">0.57</text>
<line x1="273.5" y1="420" x2="273.5" y2="455.5" stroke-width="0.75" stroke="#6a6a6a"/>
<rect x="273.3" y="455.5" width="132.7" height="18" stroke-width="0.8"/>
<line x1="273.5" y1="455.5" x2="273.5" y2="473.5" stroke-width="1.35"/>
<line x1="273.3" y1="473.5" x2="406" y2="473.5" stroke-width="1.35"/>
<line x1="303.5" y1="455.5" x2="303.5" y2="473.5" stroke-width="1.0"/>
<line x1="332.5" y1="455.5" x2="332.5" y2="473.5" stroke-width="1.0"/>
<circle cx="317.6" cy="464.55" r="3" stroke-width="1.0" fill="none"/>
<circle cx="306.8" cy="464.55" r="1.6" stroke-width="1.0" fill="none"/>
<circle cx="328.9" cy="464.55" r="1.6" stroke-width="1.0" fill="none"/>
<line x1="304.5" y1="464.5" x2="331" y2="464.5" stroke-width="0.75" stroke="#6a6a6a"/>
<line x1="306.5" y1="461" x2="306.5" y2="468" stroke-width="0.75" stroke="#6a6a6a"/>
<line x1="328.5" y1="461" x2="328.5" y2="468" stroke-width="0.75" stroke="#6a6a6a"/>
<line x1="393.5" y1="455.5" x2="393.5" y2="473.5" stroke-width="1.0"/>
<line x1="404.5" y1="455.5" x2="404.5" y2="473.5" stroke-width="1.0"/>
<line x1="396" y1="464.5" x2="402" y2="464.5" stroke-width="0.75" stroke="#6a6a6a"/>
<line x1="399.5" y1="459.5" x2="399.5" y2="469.5" stroke-width="0.75" stroke="#6a6a6a"/>
<circle cx="399" cy="464.5" r="1.4" stroke-width="0.85" fill="none"/>
<line x1="273.5" y1="473.5" x2="273.5" y2="486" stroke-width="0.75" stroke="#6a6a6a"/>
<line x1="273.3" y1="483.5" x2="339.7" y2="483.5" stroke-width="0.75" stroke="#6a6a6a"/>
<polygon points="339.7,483.7 334.2,484.7 334.2,482.7" fill="#2a2a2a" stroke="none"/>
<polygon points="273.3,483.7 278.8,482.7 278.8,484.7" fill="#2a2a2a" stroke="none"/>
<text x="307.5" y="481.3" dy="1.8" font-size="7.7" text-anchor="middle" textLength="9.25" lengthAdjust="spacingAndGlyphs" fill="#3a3a3a" stroke="#3a3a3a" stroke-width="0.25">125</text>
<line x1="234" y1="362.5" x2="243" y2="362.5" stroke-width="1.0"/>
<line x1="235.5" y1="362.3" x2="235.5" y2="371.8" stroke-width="0.75" stroke="#6a6a6a"/>
<polygon points="235.5,362.8 236.4,365.8 234.6,365.8" fill="#2a2a2a" stroke="none"/>
<line x1="234" y1="406.5" x2="243" y2="406.5" stroke-width="1.0"/>
<line x1="235.5" y1="406" x2="235.5" y2="415.5" stroke-width="0.75" stroke="#6a6a6a"/>
<polygon points="235.5,406.5 236.4,409.5 234.6,409.5" fill="#2a2a2a" stroke="none"/>
<line x1="234" y1="440.5" x2="243" y2="440.5" stroke-width="1.0"/>
<line x1="235.5" y1="440.7" x2="235.5" y2="450.2" stroke-width="0.75" stroke="#6a6a6a"/>
<polygon points="235.5,441.2 236.4,444.2 234.6,444.2" fill="#2a2a2a" stroke="none"/>
<text x="231.5" y="370" dy="1.8" font-size="7.7" text-anchor="middle" font-style="italic" textLength="5.56" lengthAdjust="spacingAndGlyphs" fill="#3a3a3a" stroke="#3a3a3a" stroke-width="0.25">C</text>
<text x="231.5" y="414" dy="1.8" font-size="7.7" text-anchor="middle" font-style="italic" textLength="5.56" lengthAdjust="spacingAndGlyphs" fill="#3a3a3a" stroke="#3a3a3a" stroke-width="0.25">D</text>
<text x="231.5" y="448" dy="1.8" font-size="7.7" text-anchor="middle" font-style="italic" textLength="4.7" lengthAdjust="spacingAndGlyphs" fill="#3a3a3a" stroke="#3a3a3a" stroke-width="0.25">F</text>
<line x1="280" y1="362.5" x2="290.7" y2="362.5" stroke-width="1.0"/>
<line x1="289.5" y1="362.3" x2="289.5" y2="372.3" stroke-width="0.75" stroke="#6a6a6a"/>
<polygon points="289.3,363.1 290.2,366.1 288.4,366.1" fill="#2a2a2a" stroke="none"/>
<text x="293" y="370" font-size="6.5" text-anchor="middle" font-style="italic" textLength="4.69" lengthAdjust="spacingAndGlyphs" fill="#3a3a3a" stroke="#3a3a3a" stroke-width="0.25">C</text>
<line x1="280" y1="440.5" x2="290.7" y2="440.5" stroke-width="1.0"/>
<line x1="288.5" y1="440.7" x2="288.5" y2="450.7" stroke-width="0.75" stroke="#6a6a6a"/>
<polygon points="288.4,441.5 289.3,444.5 287.5,444.5" fill="#2a2a2a" stroke="none"/>
<text x="292.9" y="448" font-size="6.5" text-anchor="middle" font-style="italic" textLength="3.97" lengthAdjust="spacingAndGlyphs" fill="#3a3a3a" stroke="#3a3a3a" stroke-width="0.25">F</text>
</g></svg></body></html>
